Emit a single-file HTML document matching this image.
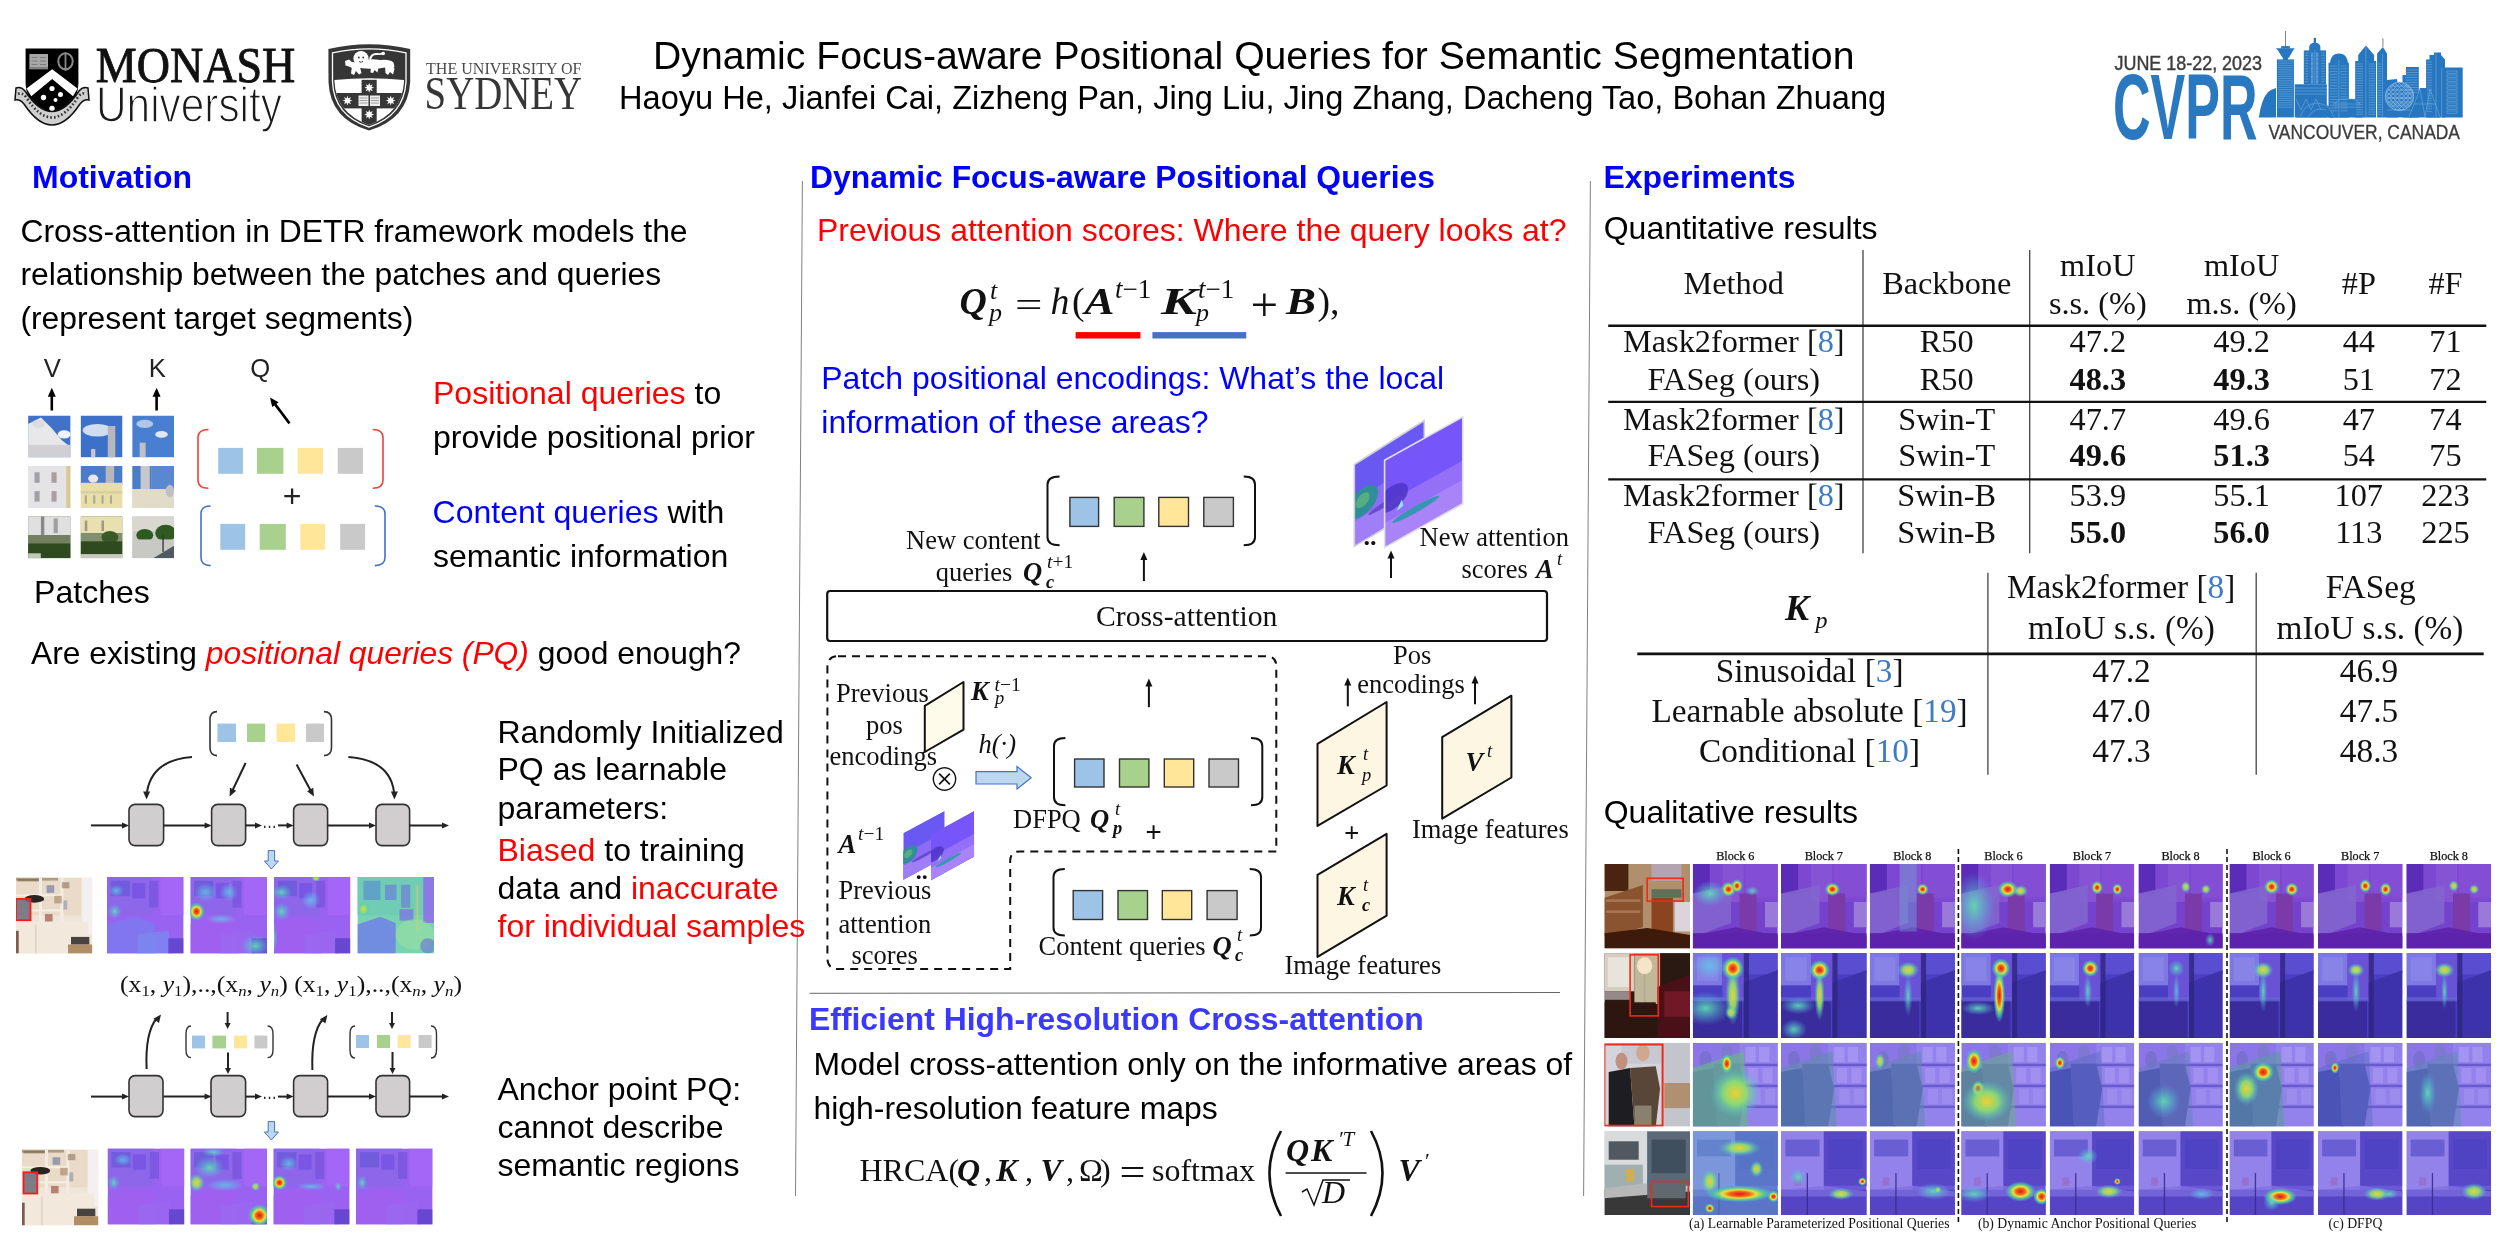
<!DOCTYPE html>
<html><head><meta charset="utf-8"><title>Dynamic Focus-aware Positional Queries for Semantic Segmentation</title>
<style>
html,body{margin:0;padding:0;background:#fff;}
body{width:2500px;height:1250px;overflow:hidden;}
svg{display:block;will-change:transform;}
.ss{font-family:"Liberation Sans",Arial,Helvetica,sans-serif;}
.sf{font-family:"Liberation Serif","Times New Roman",Times,serif;}
</style></head><body>
<svg width="2500" height="1250" viewBox="0 0 2500 1250">
<rect width="2500" height="1250" fill="#fff"/>
<g id="monash">
<path d="M25.6,48.4 H78.4 V84 Q78,96 70,104 L52.2,116 L34,104 Q26,96 25.6,84 Z" fill="#000"/>
<path d="M26.5,88.6 L52.2,69.3 L77.5,88.6 L73,96.2 L52.2,79.1 L31.3,96.2 Z" fill="#fff"/>
<rect x="29.4" y="54" width="18.6" height="15.3" fill="#a8a8a8"/>
<path d="M31.5,57.5 H37.5 M40,57.5 H46 M31.5,61 H37.5 M40,61 H46 M31.5,64.5 H37.5 M40,64.5 H46" stroke="#777" stroke-width="0.9"/><path d="M29.4,68 H48" stroke="#666" stroke-width="1.2"/>
<ellipse cx="65.5" cy="61.3" rx="7.2" ry="8" fill="none" stroke="#8a8a8a" stroke-width="2"/>
<path d="M65.5,52.5 V71" stroke="#8a8a8a" stroke-width="1.8"/>
<circle cx="52" cy="88.5" r="2.6" fill="#fff"/>
<circle cx="43.5" cy="97.5" r="2.7" fill="#fff"/>
<circle cx="60.5" cy="94.5" r="2.5" fill="#fff"/>
<circle cx="55.5" cy="100" r="2" fill="#fff"/>
<circle cx="52" cy="108.5" r="2.7" fill="#fff"/>
<path d="M16,88 Q21,86 25,91 Q52,132 79,91 Q83,86 88,88 L89,100 Q84,99 80,104 Q52,146 24,104 Q20,99 15,100 Z" fill="#cfcfcf" stroke="#111" stroke-width="1.5"/>
<path d="M18,94 Q22,92 26,97 Q52,138 78,97 Q82,92 86,94" fill="none" stroke="#333" stroke-width="2.6" stroke-dasharray="1.6 2.2"/>
</g>
<text class="sf" x="95.8" y="82.2" font-size="51" textLength="199.5" lengthAdjust="spacingAndGlyphs" fill="#111" stroke="#111" stroke-width="0.9">MONASH</text>
<text class="ss" x="96" y="122" font-size="50.5" textLength="186" lengthAdjust="spacingAndGlyphs" fill="#1a1a1a" stroke="#fff" stroke-width="1.4">University</text>
<g id="sydney">
<defs><clipPath id="sydin"><path d="M334.5,54.5 Q369,47.5 404,54.5 L404,82 Q402,113 369,125 Q336,113 334.5,82 Z"/></clipPath></defs>
<path d="M328.4,49 Q369,39.5 410.2,49 L410.2,82 Q408,119 369,130.6 Q330,119 328.5,82 Z" fill="#363636"/>
<path d="M332.5,52.8 Q369,45 406,52.8 L406,82 Q404,115.5 369,127.2 Q334,115.5 332.5,82 Z" fill="none" stroke="#fff" stroke-width="1.3"/>
<g clip-path="url(#sydin)"><rect x="330" y="44" width="80" height="90" fill="#363636"/>
<path d="M330,80.5 Q369,76 410,80.5 V135 H330 Z" fill="#fff"/>
<rect x="361.6" y="79.8" width="15.1" height="50" fill="#363636"/>
<rect x="330" y="93" width="80" height="15.4" fill="#363636"/></g>
<g fill="#fff">
<circle cx="361" cy="58.6" r="7.6"/>
<path d="M356,62 Q368,58 380,60 Q390,59 393.5,62.5 L394.5,67 Q390,69 385,67.5 Q375,69.5 366,68.5 Q358,68 355,66 Z"/>
<path d="M345,61 L349,59.5 L352,62 L357,62.5 L357,67 L352,68 L349,66.5 L345.5,65.5 Z"/>
<path d="M352,66 L351,73.5 L354,75 L356,71 L359,74.5 L361.5,73 L360,67 Z"/>
<path d="M371,66.5 L370.5,72.5 L373,73 L374.5,70 L377.5,72.5 L378.5,67 Z"/>
<path d="M385,66 L385.5,73 L388,75 L390,72 L393,74.5 L394.5,69 L392.5,65 Z"/>
</g>
<path d="M370,60 Q371,53.5 377,54 Q381,54.5 383,53" fill="none" stroke="#fff" stroke-width="2"/>
<circle cx="383.2" cy="53.5" r="1.8" fill="#fff"/>
<g fill="#363636"><circle cx="358.8" cy="57.5" r="0.9"/><circle cx="363.2" cy="57.5" r="0.9"/><path d="M359,61.5 Q361,63 363,61.5" stroke="#363636" stroke-width="0.9" fill="none"/></g>
<polygon points="374.20,87.70 371.42,88.62 372.74,91.24 370.12,89.92 369.20,92.70 368.28,89.92 365.66,91.24 366.98,88.62 364.20,87.70 366.98,86.78 365.66,84.16 368.28,85.48 369.20,82.70 370.12,85.48 372.74,84.16 371.42,86.78" fill="#fff"/>
<polygon points="352.50,100.60 349.72,101.52 351.04,104.14 348.42,102.82 347.50,105.60 346.58,102.82 343.96,104.14 345.28,101.52 342.50,100.60 345.28,99.68 343.96,97.06 346.58,98.38 347.50,95.60 348.42,98.38 351.04,97.06 349.72,99.68" fill="#fff"/>
<polygon points="395.70,100.60 392.92,101.52 394.24,104.14 391.62,102.82 390.70,105.60 389.78,102.82 387.16,104.14 388.48,101.52 385.70,100.60 388.48,99.68 387.16,97.06 389.78,98.38 390.70,95.60 391.62,98.38 394.24,97.06 392.92,99.68" fill="#fff"/>
<polygon points="374.20,114.50 371.42,115.42 372.74,118.04 370.12,116.72 369.20,119.50 368.28,116.72 365.66,118.04 366.98,115.42 364.20,114.50 366.98,113.58 365.66,110.96 368.28,112.28 369.20,109.50 370.12,112.28 372.74,110.96 371.42,113.58" fill="#fff"/>
<rect x="358.5" y="95.5" width="10" height="10.5" fill="#eee"/><rect x="370" y="95.5" width="10" height="10.5" fill="#eee"/>
<path d="M359.5,98 H367.5 M359.5,100.5 H367.5 M359.5,103 H367.5 M371,98 H379 M371,100.5 H379 M371,103 H379" stroke="#888" stroke-width="0.8"/>
</g>
<text class="sf" x="426" y="73.7" font-size="17.2" textLength="155.5" lengthAdjust="spacingAndGlyphs" fill="#4a4a4a">THE UNIVERSITY OF</text>
<text class="sf" x="424.6" y="108.8" font-size="46" textLength="157.5" lengthAdjust="spacingAndGlyphs" fill="#363636">SYDNEY</text>
<text class="ss" x="653.1" y="68.7" font-size="39.16">Dynamic Focus-aware Positional Queries for Semantic Segmentation</text>
<text class="ss" x="619" y="109" font-size="32.6">Haoyu He, Jianfei Cai, Zizheng Pan, Jing Liu, Jing Zhang, Dacheng Tao, Bohan Zhuang</text>
<text class="ss" x="2114.5" y="69.6" font-size="20.5" textLength="147.5" lengthAdjust="spacingAndGlyphs" fill="#3c3c3c" stroke="#3c3c3c" stroke-width="0.45">JUNE 18-22, 2023</text>
<text class="ss" x="2113" y="139.3" font-size="92" textLength="144.5" lengthAdjust="spacingAndGlyphs" fill="#2a78c0" style="font-weight:700">CVPR</text>
<text class="ss" x="2268.5" y="139" font-size="19.6" textLength="191.5" lengthAdjust="spacingAndGlyphs" fill="#3c3c3c" stroke="#3c3c3c" stroke-width="0.3">VANCOUVER, CANADA</text>
<g id="sky" fill="#2677bf">
<path d="M2258.9,117.4 Q2261,100 2268,92 Q2271,89.5 2276,88 V117.4 Z"/>
<rect x="2276.9" y="59.4" width="17" height="58"/>
<path d="M2276,48.2 H2294.7 L2293,50.5 L2289,57.7 H2282.5 L2278,50.5 Z"/><rect x="2281.2" y="46.1" width="8.6" height="2.4"/><rect x="2283" y="57" width="5" height="3"/>
<rect x="2294.7" y="84.3" width="32.1" height="33.1"/>
<rect x="2303.8" y="50.4" width="22.2" height="34"/>
<path d="M2309.2,51 V47 Q2309.5,43 2314.8,42.5 Q2320.2,43 2320.4,47 V51 Z"/><rect x="2313.7" y="37.9" width="2.3" height="5"/>
<path d="M2328.5,117.4 V62.8 H2330 Q2331,53.4 2338.9,53.4 Q2347,53.4 2347.9,62.8 H2348.9 V117.4 Z"/>
<path d="M2355.2,117.4 V61.1 H2358.2 V55.1 L2365.9,45.6 L2374.1,55.1 V61.1 H2376.1 V117.4 Z"/>
<path d="M2377.1,117.4 V53.4 L2382.9,46.9 L2387,53.4 V117.4 Z"/>
<path d="M2387,117.4 V80 L2396.9,79 L2398,84 V117.4 Z"/>
<path d="M2402.5,117.4 V74.9 H2406 V67.1 H2418.8 V117.4 Z"/>
<circle cx="2399.5" cy="96.4" r="14.4"/><rect x="2387" y="97" width="26" height="20.4"/>
<path d="M2408,117.4 L2420,88 H2432 L2440,117.4 Z"/>
<path d="M2330,117.4 V104 L2338,99 H2356 L2362,104 V117.4 Z"/>
<path d="M2296,117.4 Q2300,103 2317,102 Q2332,103 2334,117.4 Z"/>
<path d="M2426.1,117.4 V59.4 H2429.5 V55.1 H2434 V52.5 H2441 V55 L2445,59.4 V117.4 Z"/>
<path d="M2441.6,117.4 V67.6 H2462.7 V117.4 Z"/>
</g>
<path d="M2285.5,31 V46.5 M2382.9,38.3 V47" stroke="#666" stroke-width="0.8"/>
<g stroke="#8ab8e4" stroke-width="0.55" fill="none" opacity="0.85">
<line x1="2278" y1="61.0" x2="2292.8" y2="61.0"/>
<line x1="2278" y1="63.2" x2="2292.8" y2="63.2"/>
<line x1="2278" y1="65.4" x2="2292.8" y2="65.4"/>
<line x1="2278" y1="67.6" x2="2292.8" y2="67.6"/>
<line x1="2278" y1="69.8" x2="2292.8" y2="69.8"/>
<line x1="2278" y1="72.0" x2="2292.8" y2="72.0"/>
<line x1="2278" y1="74.2" x2="2292.8" y2="74.2"/>
<line x1="2278" y1="76.4" x2="2292.8" y2="76.4"/>
<line x1="2278" y1="78.6" x2="2292.8" y2="78.6"/>
<line x1="2278" y1="80.8" x2="2292.8" y2="80.8"/>
<line x1="2278" y1="83.0" x2="2292.8" y2="83.0"/>
<line x1="2278" y1="85.2" x2="2292.8" y2="85.2"/>
<line x1="2278" y1="87.4" x2="2292.8" y2="87.4"/>
<line x1="2278" y1="89.6" x2="2292.8" y2="89.6"/>
<line x1="2278" y1="91.8" x2="2292.8" y2="91.8"/>
<line x1="2278" y1="94.0" x2="2292.8" y2="94.0"/>
<line x1="2278" y1="96.2" x2="2292.8" y2="96.2"/>
<line x1="2278" y1="98.4" x2="2292.8" y2="98.4"/>
<line x1="2278" y1="100.6" x2="2292.8" y2="100.6"/>
<line x1="2278" y1="102.8" x2="2292.8" y2="102.8"/>
<line x1="2278" y1="105.0" x2="2292.8" y2="105.0"/>
<line x1="2278" y1="107.2" x2="2292.8" y2="107.2"/>
<line x1="2304.8" y1="53.0" x2="2308.5" y2="53.0"/><line x1="2321.2" y1="53.0" x2="2325" y2="53.0"/>
<rect x="2311.5" y="53.0" width="1.5" height="1.5"/><rect x="2316.5" y="53.0" width="1.5" height="1.5"/>
<line x1="2304.8" y1="55.6" x2="2308.5" y2="55.6"/><line x1="2321.2" y1="55.6" x2="2325" y2="55.6"/>
<rect x="2311.5" y="55.6" width="1.5" height="1.5"/><rect x="2316.5" y="55.6" width="1.5" height="1.5"/>
<line x1="2304.8" y1="58.2" x2="2308.5" y2="58.2"/><line x1="2321.2" y1="58.2" x2="2325" y2="58.2"/>
<rect x="2311.5" y="58.2" width="1.5" height="1.5"/><rect x="2316.5" y="58.2" width="1.5" height="1.5"/>
<line x1="2304.8" y1="60.8" x2="2308.5" y2="60.8"/><line x1="2321.2" y1="60.8" x2="2325" y2="60.8"/>
<rect x="2311.5" y="60.8" width="1.5" height="1.5"/><rect x="2316.5" y="60.8" width="1.5" height="1.5"/>
<line x1="2304.8" y1="63.4" x2="2308.5" y2="63.4"/><line x1="2321.2" y1="63.4" x2="2325" y2="63.4"/>
<rect x="2311.5" y="63.4" width="1.5" height="1.5"/><rect x="2316.5" y="63.4" width="1.5" height="1.5"/>
<line x1="2304.8" y1="66.0" x2="2308.5" y2="66.0"/><line x1="2321.2" y1="66.0" x2="2325" y2="66.0"/>
<rect x="2311.5" y="66.0" width="1.5" height="1.5"/><rect x="2316.5" y="66.0" width="1.5" height="1.5"/>
<line x1="2304.8" y1="68.6" x2="2308.5" y2="68.6"/><line x1="2321.2" y1="68.6" x2="2325" y2="68.6"/>
<rect x="2311.5" y="68.6" width="1.5" height="1.5"/><rect x="2316.5" y="68.6" width="1.5" height="1.5"/>
<line x1="2304.8" y1="71.2" x2="2308.5" y2="71.2"/><line x1="2321.2" y1="71.2" x2="2325" y2="71.2"/>
<rect x="2311.5" y="71.2" width="1.5" height="1.5"/><rect x="2316.5" y="71.2" width="1.5" height="1.5"/>
<line x1="2304.8" y1="73.8" x2="2308.5" y2="73.8"/><line x1="2321.2" y1="73.8" x2="2325" y2="73.8"/>
<rect x="2311.5" y="73.8" width="1.5" height="1.5"/><rect x="2316.5" y="73.8" width="1.5" height="1.5"/>
<line x1="2304.8" y1="76.4" x2="2308.5" y2="76.4"/><line x1="2321.2" y1="76.4" x2="2325" y2="76.4"/>
<rect x="2311.5" y="76.4" width="1.5" height="1.5"/><rect x="2316.5" y="76.4" width="1.5" height="1.5"/>
<line x1="2304.8" y1="79.0" x2="2308.5" y2="79.0"/><line x1="2321.2" y1="79.0" x2="2325" y2="79.0"/>
<rect x="2311.5" y="79.0" width="1.5" height="1.5"/><rect x="2316.5" y="79.0" width="1.5" height="1.5"/>
<line x1="2304.8" y1="81.6" x2="2308.5" y2="81.6"/><line x1="2321.2" y1="81.6" x2="2325" y2="81.6"/>
<rect x="2311.5" y="81.6" width="1.5" height="1.5"/><rect x="2316.5" y="81.6" width="1.5" height="1.5"/>
<line x1="2330" y1="66.0" x2="2337.5" y2="66.0"/><line x1="2340.5" y1="66.0" x2="2347.5" y2="66.0"/>
<line x1="2330" y1="68.8" x2="2337.5" y2="68.8"/><line x1="2340.5" y1="68.8" x2="2347.5" y2="68.8"/>
<line x1="2330" y1="71.6" x2="2337.5" y2="71.6"/><line x1="2340.5" y1="71.6" x2="2347.5" y2="71.6"/>
<line x1="2330" y1="74.4" x2="2337.5" y2="74.4"/><line x1="2340.5" y1="74.4" x2="2347.5" y2="74.4"/>
<line x1="2330" y1="77.2" x2="2337.5" y2="77.2"/><line x1="2340.5" y1="77.2" x2="2347.5" y2="77.2"/>
<line x1="2330" y1="80.0" x2="2337.5" y2="80.0"/><line x1="2340.5" y1="80.0" x2="2347.5" y2="80.0"/>
<line x1="2330" y1="82.8" x2="2337.5" y2="82.8"/><line x1="2340.5" y1="82.8" x2="2347.5" y2="82.8"/>
<line x1="2330" y1="85.6" x2="2337.5" y2="85.6"/><line x1="2340.5" y1="85.6" x2="2347.5" y2="85.6"/>
<line x1="2330" y1="88.4" x2="2337.5" y2="88.4"/><line x1="2340.5" y1="88.4" x2="2347.5" y2="88.4"/>
<line x1="2330" y1="91.2" x2="2337.5" y2="91.2"/><line x1="2340.5" y1="91.2" x2="2347.5" y2="91.2"/>
<line x1="2330" y1="94.0" x2="2337.5" y2="94.0"/><line x1="2340.5" y1="94.0" x2="2347.5" y2="94.0"/>
<line x1="2330" y1="96.8" x2="2337.5" y2="96.8"/><line x1="2340.5" y1="96.8" x2="2347.5" y2="96.8"/>
<line x1="2330" y1="99.6" x2="2337.5" y2="99.6"/><line x1="2340.5" y1="99.6" x2="2347.5" y2="99.6"/>
<line x1="2330" y1="102.4" x2="2337.5" y2="102.4"/><line x1="2340.5" y1="102.4" x2="2347.5" y2="102.4"/>
<line x1="2330" y1="105.2" x2="2337.5" y2="105.2"/><line x1="2340.5" y1="105.2" x2="2347.5" y2="105.2"/>
<line x1="2330" y1="108.0" x2="2337.5" y2="108.0"/><line x1="2340.5" y1="108.0" x2="2347.5" y2="108.0"/>
<line x1="2330" y1="110.8" x2="2337.5" y2="110.8"/><line x1="2340.5" y1="110.8" x2="2347.5" y2="110.8"/>
<line x1="2356.2" y1="64.0" x2="2363" y2="64.0"/><line x1="2368.5" y1="64.0" x2="2375" y2="64.0"/>
<line x1="2378" y1="64.0" x2="2381.5" y2="64.0"/>
<line x1="2356.2" y1="66.4" x2="2363" y2="66.4"/><line x1="2368.5" y1="66.4" x2="2375" y2="66.4"/>
<line x1="2378" y1="66.4" x2="2381.5" y2="66.4"/>
<line x1="2356.2" y1="68.8" x2="2363" y2="68.8"/><line x1="2368.5" y1="68.8" x2="2375" y2="68.8"/>
<line x1="2378" y1="68.8" x2="2381.5" y2="68.8"/>
<line x1="2356.2" y1="71.2" x2="2363" y2="71.2"/><line x1="2368.5" y1="71.2" x2="2375" y2="71.2"/>
<line x1="2378" y1="71.2" x2="2381.5" y2="71.2"/>
<line x1="2356.2" y1="73.6" x2="2363" y2="73.6"/><line x1="2368.5" y1="73.6" x2="2375" y2="73.6"/>
<line x1="2378" y1="73.6" x2="2381.5" y2="73.6"/>
<line x1="2356.2" y1="76.0" x2="2363" y2="76.0"/><line x1="2368.5" y1="76.0" x2="2375" y2="76.0"/>
<line x1="2378" y1="76.0" x2="2381.5" y2="76.0"/>
<line x1="2356.2" y1="78.4" x2="2363" y2="78.4"/><line x1="2368.5" y1="78.4" x2="2375" y2="78.4"/>
<line x1="2378" y1="78.4" x2="2381.5" y2="78.4"/>
<line x1="2356.2" y1="80.8" x2="2363" y2="80.8"/><line x1="2368.5" y1="80.8" x2="2375" y2="80.8"/>
<line x1="2378" y1="80.8" x2="2381.5" y2="80.8"/>
<line x1="2356.2" y1="83.2" x2="2363" y2="83.2"/><line x1="2368.5" y1="83.2" x2="2375" y2="83.2"/>
<line x1="2378" y1="83.2" x2="2381.5" y2="83.2"/>
<line x1="2356.2" y1="85.6" x2="2363" y2="85.6"/><line x1="2368.5" y1="85.6" x2="2375" y2="85.6"/>
<line x1="2378" y1="85.6" x2="2381.5" y2="85.6"/>
<line x1="2356.2" y1="88.0" x2="2363" y2="88.0"/><line x1="2368.5" y1="88.0" x2="2375" y2="88.0"/>
<line x1="2378" y1="88.0" x2="2381.5" y2="88.0"/>
<line x1="2356.2" y1="90.4" x2="2363" y2="90.4"/><line x1="2368.5" y1="90.4" x2="2375" y2="90.4"/>
<line x1="2378" y1="90.4" x2="2381.5" y2="90.4"/>
<line x1="2356.2" y1="92.8" x2="2363" y2="92.8"/><line x1="2368.5" y1="92.8" x2="2375" y2="92.8"/>
<line x1="2378" y1="92.8" x2="2381.5" y2="92.8"/>
<line x1="2356.2" y1="95.2" x2="2363" y2="95.2"/><line x1="2368.5" y1="95.2" x2="2375" y2="95.2"/>
<line x1="2378" y1="95.2" x2="2381.5" y2="95.2"/>
<line x1="2356.2" y1="97.6" x2="2363" y2="97.6"/><line x1="2368.5" y1="97.6" x2="2375" y2="97.6"/>
<line x1="2378" y1="97.6" x2="2381.5" y2="97.6"/>
<line x1="2356.2" y1="100.0" x2="2363" y2="100.0"/><line x1="2368.5" y1="100.0" x2="2375" y2="100.0"/>
<line x1="2378" y1="100.0" x2="2381.5" y2="100.0"/>
<line x1="2356.2" y1="102.4" x2="2363" y2="102.4"/><line x1="2368.5" y1="102.4" x2="2375" y2="102.4"/>
<line x1="2378" y1="102.4" x2="2381.5" y2="102.4"/>
<line x1="2356.2" y1="104.8" x2="2363" y2="104.8"/><line x1="2368.5" y1="104.8" x2="2375" y2="104.8"/>
<line x1="2378" y1="104.8" x2="2381.5" y2="104.8"/>
<line x1="2356.2" y1="107.2" x2="2363" y2="107.2"/><line x1="2368.5" y1="107.2" x2="2375" y2="107.2"/>
<line x1="2378" y1="107.2" x2="2381.5" y2="107.2"/>
<line x1="2356.2" y1="109.6" x2="2363" y2="109.6"/><line x1="2368.5" y1="109.6" x2="2375" y2="109.6"/>
<line x1="2378" y1="109.6" x2="2381.5" y2="109.6"/>
<line x1="2356.2" y1="112.0" x2="2363" y2="112.0"/><line x1="2368.5" y1="112.0" x2="2375" y2="112.0"/>
<line x1="2378" y1="112.0" x2="2381.5" y2="112.0"/>
<line x1="2356.2" y1="114.4" x2="2363" y2="114.4"/><line x1="2368.5" y1="114.4" x2="2375" y2="114.4"/>
<line x1="2378" y1="114.4" x2="2381.5" y2="114.4"/>
<line x1="2405" y1="70.0" x2="2417.5" y2="70.0"/>
<line x1="2405" y1="72.5" x2="2417.5" y2="72.5"/>
<line x1="2405" y1="75.0" x2="2417.5" y2="75.0"/>
<line x1="2405" y1="77.5" x2="2417.5" y2="77.5"/>
<line x1="2405" y1="80.0" x2="2417.5" y2="80.0"/>
<line x1="2405" y1="82.5" x2="2417.5" y2="82.5"/>
<line x1="2405" y1="85.0" x2="2417.5" y2="85.0"/>
<line x1="2405" y1="87.5" x2="2417.5" y2="87.5"/>
<line x1="2405" y1="90.0" x2="2417.5" y2="90.0"/>
<line x1="2405" y1="92.5" x2="2417.5" y2="92.5"/>
<line x1="2427" y1="62.0" x2="2432" y2="62.0"/>
<line x1="2427" y1="64.6" x2="2432" y2="64.6"/>
<line x1="2427" y1="67.2" x2="2432" y2="67.2"/>
<line x1="2427" y1="69.8" x2="2432" y2="69.8"/>
<line x1="2427" y1="72.4" x2="2432" y2="72.4"/>
<line x1="2427" y1="75.0" x2="2432" y2="75.0"/>
<line x1="2427" y1="77.6" x2="2432" y2="77.6"/>
<line x1="2427" y1="80.2" x2="2432" y2="80.2"/>
<line x1="2427" y1="82.8" x2="2432" y2="82.8"/>
<line x1="2427" y1="85.4" x2="2432" y2="85.4"/>
<line x1="2427" y1="88.0" x2="2432" y2="88.0"/>
<line x1="2427" y1="90.6" x2="2432" y2="90.6"/>
<line x1="2427" y1="93.2" x2="2432" y2="93.2"/>
<line x1="2427" y1="95.8" x2="2432" y2="95.8"/>
<line x1="2427" y1="98.4" x2="2432" y2="98.4"/>
<line x1="2427" y1="101.0" x2="2432" y2="101.0"/>
<line x1="2427" y1="103.6" x2="2432" y2="103.6"/>
<line x1="2427" y1="106.2" x2="2432" y2="106.2"/>
<line x1="2427" y1="108.8" x2="2432" y2="108.8"/>
<line x1="2427" y1="111.4" x2="2432" y2="111.4"/>
<rect x="2447" y="71.0" width="10" height="2.2"/>
<rect x="2447" y="75.0" width="10" height="2.2"/>
<rect x="2447" y="79.0" width="10" height="2.2"/>
<rect x="2447" y="83.0" width="10" height="2.2"/>
<rect x="2447" y="87.0" width="10" height="2.2"/>
<rect x="2447" y="91.0" width="10" height="2.2"/>
<rect x="2447" y="95.0" width="10" height="2.2"/>
<rect x="2447" y="99.0" width="10" height="2.2"/>
<rect x="2447" y="103.0" width="10" height="2.2"/>
<rect x="2447" y="107.0" width="10" height="2.2"/>
<rect x="2447" y="111.0" width="10" height="2.2"/>
<path d="M2365.9,46 V117 M2382.5,54 V117 M2441.6,68 V117 M2436,53 V117 M2338.9,60 V117 M2314.8,50 V84"/>
<path d="M2294.7,88 H2326.8 M2294.7,91 H2326.8 M2294.7,94 H2326.8 M2296,99 L2301,110 L2306,99 L2311,110 L2316,99 L2321,110"/>
<path d="M2300.2,117 Q2304,104 2317,103 Q2330,104 2333.7,117 M2308,117 Q2315,106 2326,110"/>
<path d="M2333.7,104 L2340,99 H2354 L2360.3,104 Z M2334,107 H2360"/>
<path d="M2409,117 L2420,89 L2425,117 M2425,117 L2430,89 L2440,117 M2414,104 H2436"/>
<path d="M2387,98 H2412 M2387,104 H2412 M2387,110 H2412"/>
</g>
<clipPath id="sphc"><circle cx="2399.5" cy="96.4" r="14"/></clipPath>
<g clip-path="url(#sphc)" stroke="#a8ccee" stroke-width="0.5" fill="none"><path d="M2358.3,80.0 L2390.3,112.0 M2390.3,80.0 L2358.3,112.0 M2362.5,80.0 L2394.5,112.0 M2394.5,80.0 L2362.5,112.0 M2366.7,80.0 L2398.7,112.0 M2398.7,80.0 L2366.7,112.0 M2370.9,80.0 L2402.9,112.0 M2402.9,80.0 L2370.9,112.0 M2375.1,80.0 L2407.1,112.0 M2407.1,80.0 L2375.1,112.0 M2379.3,80.0 L2411.3,112.0 M2411.3,80.0 L2379.3,112.0 M2383.5,80.0 L2415.5,112.0 M2415.5,80.0 L2383.5,112.0 M2387.7,80.0 L2419.7,112.0 M2419.7,80.0 L2387.7,112.0 M2391.9,80.0 L2423.9,112.0 M2423.9,80.0 L2391.9,112.0 M2396.1,80.0 L2428.1,112.0 M2428.1,80.0 L2396.1,112.0 M2400.3,80.0 L2432.3,112.0 M2432.3,80.0 L2400.3,112.0 M2404.5,80.0 L2436.5,112.0 M2436.5,80.0 L2404.5,112.0 M2408.7,80.0 L2440.7,112.0 M2440.7,80.0 L2408.7,112.0 M2384,82 H2415 M2384,86 H2415 M2384,90 H2415 M2384,94 H2415 M2384,98 H2415 M2384,102 H2415 M2384,106 H2415 M2384,110 H2415"/></g>
<circle cx="2399.5" cy="96.4" r="14.2" fill="none" stroke="#a8ccee" stroke-width="0.7"/>
<defs>
<marker id="ah" viewBox="0 0 10 10" refX="9" refY="5" markerWidth="4" markerHeight="4" orient="auto-start-reverse"><path d="M0,0 L10,5 L0,10 Z" fill="#000"/></marker>
<marker id="ahs" viewBox="0 0 10 10" refX="9" refY="5" markerWidth="3.2" markerHeight="3.2" orient="auto-start-reverse"><path d="M0,0 L10,5 L0,10 Z" fill="#222"/></marker>
<radialGradient id="hot"><stop offset="0" stop-color="#e8102a"/><stop offset="0.3" stop-color="#f06a10"/><stop offset="0.5" stop-color="#e8e040"/><stop offset="0.72" stop-color="#50d890" stop-opacity="0.8"/><stop offset="1" stop-color="#40c0e0" stop-opacity="0"/></radialGradient>
<radialGradient id="warm"><stop offset="0" stop-color="#f0d030"/><stop offset="0.45" stop-color="#90e070" stop-opacity="0.9"/><stop offset="1" stop-color="#40c0e0" stop-opacity="0"/></radialGradient>
<radialGradient id="cool"><stop offset="0" stop-color="#60e0b0" stop-opacity="0.9"/><stop offset="1" stop-color="#50b8e8" stop-opacity="0"/></radialGradient>
<radialGradient id="cyan"><stop offset="0" stop-color="#60c8e8" stop-opacity="0.8"/><stop offset="1" stop-color="#60c8e8" stop-opacity="0"/></radialGradient>
<linearGradient id="pp1" x1="0" y1="0" x2="0" y2="1"><stop offset="0" stop-color="#8a5ae8"/><stop offset="1" stop-color="#7048d8"/></linearGradient>
</defs>
<line x1="802.4" y1="181" x2="795.5" y2="1196" stroke="#808080" stroke-width="1"/>
<line x1="1590.4" y1="181" x2="1583.6" y2="1196" stroke="#808080" stroke-width="1"/>
<text class="ss" x="32" y="187.6" font-size="32" fill="#0000ff" style="font-weight:700;">Motivation</text>
<text class="ss" x="20.4" y="241.8" font-size="31.85">Cross-attention in DETR framework models the</text>
<text class="ss" x="20.4" y="285.2" font-size="31.85">relationship between the patches and queries</text>
<text class="ss" x="20.4" y="329" font-size="31.85">(represent target segments)</text>
<text class="ss" x="52.4" y="377" font-size="25.7" fill="#222" text-anchor="middle">V</text>
<text class="ss" x="157.2" y="377" font-size="25.7" fill="#222" text-anchor="middle">K</text>
<text class="ss" x="260.3" y="377" font-size="25.7" fill="#222" text-anchor="middle">Q</text>
<line x1="51.8" y1="410.5" x2="51.8" y2="395.8" stroke="#000" stroke-width="2.6"/>
<polygon points="51.8,387.8 55.8,396.8 47.8,396.8" fill="#000"/>
<line x1="156.6" y1="410.5" x2="156.6" y2="395.8" stroke="#000" stroke-width="2.6"/>
<polygon points="156.6,387.8 160.6,396.8 152.6,396.8" fill="#000"/>
<line x1="289.5" y1="423.4" x2="274.8" y2="403.9" stroke="#000" stroke-width="2.6"/>
<polygon points="270.0,397.5 278.6,402.3 272.2,407.1" fill="#000"/>
<clipPath id="c1"><rect x="28.1" y="415.5" width="42.5" height="41.9"/></clipPath>
<g clip-path="url(#c1)"><rect x="28.1" y="415.5" width="42.5" height="41.9" fill="#3f72c8"/>
<polygon points="28.1,423.9 40.9,417.6 51.5,428.1 62.1,440.6 70.6,446.9 70.6,457.4 28.1,457.4" fill="#e8e8ea" opacity="1"/>
<ellipse cx="38.7" cy="423.9" rx="6.4" ry="4.2" fill="#dcdce0" opacity="1"/>
<rect x="28.1" y="444.8" width="42.5" height="12.6" fill="#d0d0d4" opacity="1"/>
<ellipse cx="64.2" cy="434.4" rx="6.4" ry="4.2" fill="#f0f4fa" opacity="1"/>
</g>
<clipPath id="c2"><rect x="80.6" y="415.5" width="41.9" height="41.9"/></clipPath>
<g clip-path="url(#c2)"><rect x="80.6" y="415.5" width="41.9" height="41.9" fill="#3d70c8"/>
<ellipse cx="97.4" cy="430.2" rx="14.7" ry="6.3" fill="#e0e8f4" opacity="0.9"/>
<rect x="107.8" y="426.0" width="7.5" height="31.4" fill="#b8b8bc" opacity="1"/>
<rect x="91.1" y="449.0" width="4.2" height="8.4" fill="#c8c8cc" opacity="1"/>
</g>
<clipPath id="c3"><rect x="132.2" y="415.5" width="41.9" height="41.9"/></clipPath>
<g clip-path="url(#c3)"><rect x="132.2" y="415.5" width="41.9" height="41.9" fill="#4a7ed0"/>
<ellipse cx="144.8" cy="423.9" rx="8.4" ry="4.2" fill="#c8d8f0" opacity="0.8"/>
<ellipse cx="161.5" cy="434.4" rx="6.3" ry="3.4" fill="#e0e8f4" opacity="1"/>
<rect x="139.7" y="442.7" width="5.9" height="14.7" fill="#c0c0c4" opacity="1"/>
</g>
<clipPath id="c4"><rect x="28.1" y="466.0" width="42.5" height="41.9"/></clipPath>
<g clip-path="url(#c4)"><rect x="28.1" y="466.0" width="42.5" height="41.9" fill="#e8e8e8"/>
<rect x="28.1" y="466.0" width="42.5" height="41.9" fill="#e4e4e6" opacity="1"/>
<rect x="34.5" y="472.3" width="5.1" height="10.5" fill="#a0a0a8" opacity="1"/>
<rect x="51.5" y="472.3" width="5.1" height="10.5" fill="#a8a0a0" opacity="1"/>
<rect x="34.5" y="491.1" width="5.1" height="10.5" fill="#a0a0a8" opacity="1"/>
<rect x="51.5" y="491.1" width="5.1" height="10.5" fill="#a8a0a4" opacity="1"/>
<rect x="66.3" y="466.0" width="4.2" height="41.9" fill="#d8c890" opacity="1"/>
</g>
<clipPath id="c5"><rect x="80.6" y="466.0" width="41.9" height="41.9"/></clipPath>
<g clip-path="url(#c5)"><rect x="80.6" y="466.0" width="41.9" height="41.9" fill="#e8e0b0"/>
<rect x="80.6" y="466.0" width="41.9" height="18.9" fill="#4a7ccc" opacity="1"/>
<rect x="105.7" y="466.0" width="8.4" height="20.9" fill="#b8b8bc" opacity="1"/>
<ellipse cx="93.2" cy="478.6" rx="5.0" ry="4.2" fill="#e8e8ec" opacity="1"/>
<rect x="80.6" y="482.8" width="41.9" height="25.1" fill="#e8dfa8" opacity="1"/>
<rect x="80.6" y="491.1" width="41.9" height="2.5" fill="#d8d0a0" opacity="1"/>
<rect x="84.8" y="495.3" width="2.1" height="8.4" fill="#b0a890" opacity="1"/>
<rect x="93.2" y="495.3" width="2.1" height="8.4" fill="#b0a890" opacity="1"/>
<rect x="101.5" y="495.3" width="2.1" height="8.4" fill="#b0a890" opacity="1"/>
<rect x="109.9" y="495.3" width="2.1" height="8.4" fill="#b0a890" opacity="1"/>
</g>
<clipPath id="c6"><rect x="132.2" y="466.0" width="41.9" height="41.9"/></clipPath>
<g clip-path="url(#c6)"><rect x="132.2" y="466.0" width="41.9" height="41.9" fill="#dcdccc"/>
<rect x="132.2" y="466.0" width="18.9" height="23.0" fill="#4a7ccc" opacity="1"/>
<rect x="151.1" y="466.0" width="23.0" height="25.1" fill="#5a88d0" opacity="1"/>
<rect x="140.6" y="466.0" width="9.2" height="29.3" fill="#c8c8cc" opacity="1"/>
<rect x="132.2" y="489.0" width="41.9" height="18.9" fill="#e0dcc8" opacity="1"/>
<ellipse cx="169.9" cy="491.1" rx="4.2" ry="6.3" fill="#c0c0c0" opacity="1"/>
</g>
<clipPath id="c7"><rect x="28.1" y="516.3" width="42.5" height="42.0"/></clipPath>
<g clip-path="url(#c7)"><rect x="28.1" y="516.3" width="42.5" height="42.0" fill="#5a7040"/>
<rect x="28.1" y="516.3" width="42.5" height="18.9" fill="#e0e0e0" opacity="1"/>
<rect x="40.9" y="516.3" width="3.4" height="18.9" fill="#888" opacity="1"/>
<rect x="53.6" y="518.4" width="4.2" height="14.7" fill="#a0a0a0" opacity="1"/>
<rect x="28.1" y="535.2" width="42.5" height="8.4" fill="#708060" opacity="1"/>
<rect x="28.1" y="543.6" width="42.5" height="14.7" fill="#304a20" opacity="1"/>
<rect x="28.1" y="553.3" width="12.7" height="5.0" fill="#c0c8b8" opacity="1"/>
</g>
<clipPath id="c8"><rect x="80.6" y="516.3" width="41.9" height="42.0"/></clipPath>
<g clip-path="url(#c8)"><rect x="80.6" y="516.3" width="41.9" height="42.0" fill="#4a6a30"/>
<rect x="80.6" y="516.3" width="41.9" height="16.8" fill="#e8e0b0" opacity="1"/>
<rect x="84.8" y="520.5" width="2.5" height="10.5" fill="#a09880" opacity="1"/>
<rect x="101.5" y="520.5" width="2.5" height="10.5" fill="#a09880" opacity="1"/>
<rect x="80.6" y="533.1" width="41.9" height="8.4" fill="#809070" opacity="1"/>
<ellipse cx="109.9" cy="537.3" rx="8.4" ry="6.3" fill="#3a5a2a" opacity="1"/>
<rect x="80.6" y="541.5" width="41.9" height="12.6" fill="#2e4a1e" opacity="1"/>
<rect x="80.6" y="554.1" width="41.9" height="4.2" fill="#c8c8c0" opacity="1"/>
</g>
<clipPath id="c9"><rect x="132.2" y="516.3" width="41.9" height="42.0"/></clipPath>
<g clip-path="url(#c9)"><rect x="132.2" y="516.3" width="41.9" height="42.0" fill="#c8c8c4"/>
<rect x="132.2" y="516.3" width="41.9" height="14.7" fill="#d8d8d0" opacity="1"/>
<ellipse cx="144.8" cy="535.2" rx="8.4" ry="6.3" fill="#2e5a22" opacity="1"/>
<ellipse cx="165.7" cy="533.1" rx="10.5" ry="8.4" fill="#305a22" opacity="1"/>
<rect x="132.2" y="539.4" width="41.9" height="18.9" fill="#c8c8c4" opacity="1"/>
<polygon points="153.1,558.3 174.1,545.7 174.1,558.3" fill="#505860" opacity="1"/>
<rect x="162.4" y="535.2" width="1.3" height="16.8" fill="#333" opacity="1"/>
</g>
<path d="M208.5,429.5 Q198,429.5 198,437.5 V480.3 Q198,488.3 208.5,488.3" fill="none" stroke="#e8443a" stroke-width="1.6"/>
<path d="M372.7,429.5 Q383,429.5 383,437.5 V480.3 Q383,488.3 372.7,488.3" fill="none" stroke="#e8443a" stroke-width="1.6"/>
<rect x="218.2" y="447.9" width="24.8" height="25.9" fill="#9dc3e6"/>
<rect x="257" y="447.9" width="26.4" height="25.9" fill="#a9d18e"/>
<rect x="297.7" y="447.9" width="25.3" height="25.9" fill="#ffe699"/>
<rect x="337.7" y="447.9" width="25.3" height="25.9" fill="#c9c9c9"/>
<text class="ss" x="282.7" y="507.4" font-size="32" fill="#222">+</text>
<path d="M210.6,506 Q201,506 201,514 V557.6 Q201,565.6 210.6,565.6" fill="none" stroke="#4472c4" stroke-width="1.6"/>
<path d="M374.8,506 Q385,506 385,514 V557.6 Q385,565.6 374.8,565.6" fill="none" stroke="#4472c4" stroke-width="1.6"/>
<rect x="220.3" y="523.9" width="24.9" height="25.9" fill="#9dc3e6"/>
<rect x="259.7" y="523.9" width="26.1" height="25.9" fill="#a9d18e"/>
<rect x="300.3" y="523.9" width="24.8" height="25.9" fill="#ffe699"/>
<rect x="340.2" y="523.9" width="24.9" height="25.9" fill="#c9c9c9"/>
<text class="ss" x="34.1" y="602.8" font-size="32">Patches</text>
<text class="ss" x="433" y="403.5" font-size="32"><tspan fill="#ff0000">Positional queries</tspan> to</text>
<text class="ss" x="433" y="447.6" font-size="32">provide positional prior</text>
<text class="ss" x="432.6" y="523.2" font-size="32"><tspan fill="#0000ff">Content queries</tspan> with</text>
<text class="ss" x="433" y="566.7" font-size="32">semantic information</text>
<text class="ss" x="31" y="664" font-size="31.78">Are existing <tspan fill="#ff0000" style="font-style:italic">positional queries (PQ)</tspan> good enough?</text>
<path d="M217,711.6 Q210,711.6 210,719.6 V747.6 Q210,755.6 217,755.6" fill="none" stroke="#333" stroke-width="1.6"/>
<path d="M324,711.6 Q331.5,711.6 331.5,719.6 V747.6 Q331.5,755.6 324,755.6" fill="none" stroke="#333" stroke-width="1.6"/>
<rect x="217.4" y="723.6" width="18.6" height="18.4" fill="#9dc3e6"/>
<rect x="247" y="723.6" width="18.2" height="18.4" fill="#a9d18e"/>
<rect x="276.6" y="723.6" width="18.4" height="18.4" fill="#ffe699"/>
<rect x="306" y="723.6" width="18" height="18.4" fill="#c9c9c9"/>
<rect x="129" y="804.4" width="34.599999999999994" height="41.200000000000045" rx="6" fill="#d0cece" stroke="#333" stroke-width="1.6"/>
<rect x="211.6" y="804.4" width="34.0" height="41.200000000000045" rx="6" fill="#d0cece" stroke="#333" stroke-width="1.6"/>
<rect x="293.6" y="804.4" width="34.0" height="41.200000000000045" rx="6" fill="#d0cece" stroke="#333" stroke-width="1.6"/>
<rect x="376" y="804.4" width="33.60000000000002" height="41.200000000000045" rx="6" fill="#d0cece" stroke="#333" stroke-width="1.6"/>
<line x1="91.0" y1="825.4" x2="123.0" y2="825.4" stroke="#222" stroke-width="2"/>
<polygon points="129.0,825.4 122.0,828.4 122.0,822.4" fill="#222"/>
<line x1="163.6" y1="825.4" x2="205.6" y2="825.4" stroke="#222" stroke-width="2"/>
<polygon points="211.6,825.4 204.6,828.4 204.6,822.4" fill="#222"/>
<line x1="245.6" y1="825.4" x2="256.0" y2="825.4" stroke="#222" stroke-width="2"/>
<polygon points="262.0,825.4 255.0,828.4 255.0,822.4" fill="#222"/>
<text class="ss" x="262" y="828.0" font-size="20" textLength="15" lengthAdjust="spacingAndGlyphs" fill="#222">…</text>
<line x1="278.0" y1="825.4" x2="287.6" y2="825.4" stroke="#222" stroke-width="2"/>
<polygon points="293.6,825.4 286.6,828.4 286.6,822.4" fill="#222"/>
<line x1="327.6" y1="825.4" x2="370.0" y2="825.4" stroke="#222" stroke-width="2"/>
<polygon points="376.0,825.4 369.0,828.4 369.0,822.4" fill="#222"/>
<line x1="409.6" y1="825.4" x2="443.0" y2="825.4" stroke="#222" stroke-width="2"/>
<polygon points="449.0,825.4 442.0,828.4 442.0,822.4" fill="#222"/>
<path d="M192,757 Q152,760 147,792" fill="none" stroke="#222" stroke-width="2"/>
<polygon points="146.6,799.5 143.1,791.5 150.1,791.5" fill="#222"/>
<line x1="245.6" y1="763.0" x2="232.6" y2="790.2" stroke="#222" stroke-width="2"/>
<polygon points="229.6,796.5 229.9,787.8 236.2,790.8" fill="#222"/>
<line x1="296.6" y1="764.6" x2="310.6" y2="790.4" stroke="#222" stroke-width="2"/>
<polygon points="314.0,796.5 307.1,791.2 313.2,787.8" fill="#222"/>
<path d="M348.4,757 Q390,760 394,792" fill="none" stroke="#222" stroke-width="2"/>
<polygon points="394.4,799.5 390.9,791.5 397.9,791.5" fill="#222"/>
<path d="M268.2,850.6 H274.59999999999997 V861 H278.4 L271.4,869 L264.4,861 H268.2 Z" fill="#bdd7ee" stroke="#4472c4" stroke-width="1"/>
<clipPath id="c10"><rect x="16.0" y="877.6" width="76.4" height="76.0"/></clipPath>
<g clip-path="url(#c10)"><rect x="16.0" y="877.6" width="76.4" height="76.0" fill="#efe6da"/>
<rect x="16.0" y="877.6" width="67.2" height="38.0" fill="#eadbc8" opacity="1"/>
<rect x="16.0" y="877.6" width="42.0" height="3.0" fill="#8a7050" opacity="0.6"/>
<rect x="17.5" y="879.1" width="22.9" height="2.3" fill="#6a5a40" opacity="0.6"/>
<rect x="38.9" y="877.6" width="3.1" height="45.6" fill="#f4ece2" opacity="1"/>
<rect x="60.3" y="877.6" width="3.1" height="45.6" fill="#f4ece2" opacity="1"/>
<rect x="16.0" y="894.3" width="45.8" height="1.9" fill="#f6efe6" opacity="1"/>
<rect x="16.0" y="909.5" width="45.8" height="1.9" fill="#f6efe6" opacity="1"/>
<ellipse cx="34.3" cy="898.9" rx="9.9" ry="3.8" fill="#2a2420" opacity="1"/>
<rect x="46.6" y="885.2" width="7.6" height="7.6" fill="#6070a0" opacity="0.6"/>
<rect x="54.2" y="895.8" width="7.6" height="7.6" fill="#a08060" opacity="0.6"/>
<rect x="45.0" y="914.1" width="7.6" height="7.6" fill="#904030" opacity="0.6"/>
<rect x="61.8" y="882.2" width="7.6" height="6.1" fill="#7a6040" opacity="0.5"/>
<rect x="63.4" y="900.4" width="3.8" height="9.1" fill="#7080b0" opacity="0.5"/>
<rect x="81.7" y="877.6" width="10.7" height="57.0" fill="#f4f0f2" opacity="1"/>
<rect x="81.7" y="923.2" width="3.8" height="11.4" fill="#a04030" opacity="0.5"/>
<rect x="16.0" y="921.7" width="72.6" height="31.9" fill="#f2e8dc" opacity="1"/>
<rect x="35.1" y="924.7" width="1.5" height="28.9" fill="#d8c8b8" opacity="0.7"/>
<rect x="71.0" y="936.9" width="18.3" height="7.6" fill="#2a2624" opacity="0.85"/>
<rect x="68.0" y="944.5" width="24.4" height="9.1" fill="#a07848" opacity="0.8"/>
<rect x="16.0" y="930.8" width="2.7" height="22.8" fill="#5a3a2a" opacity="0.8"/>
<rect x="16.0" y="898.9" width="14.5" height="21.3" fill="#6a6a7a" opacity="0.85"/>
<rect x="16.0" y="898.9" width="14.5" height="21.3" fill="none" stroke="#ff1a1a" stroke-width="1.8"/>
</g>
<clipPath id="c11"><rect x="107.0" y="877.0" width="76.6" height="76.6"/></clipPath>
<g clip-path="url(#c11)"><rect x="107.0" y="877.0" width="76.6" height="76.6" fill="#9a62f0"/>
<rect x="107.0" y="877.0" width="46.0" height="38.3" fill="#8a68e8" opacity="0.8"/>
<rect x="110.8" y="880.8" width="19.1" height="15.3" fill="#6a5ad8" opacity="0.8"/>
<rect x="132.3" y="883.1" width="13.0" height="15.3" fill="#7050e0" opacity="0.7"/>
<rect x="149.1" y="880.8" width="9.2" height="26.8" fill="#7050d8" opacity="0.6"/>
<rect x="160.6" y="877.0" width="23.0" height="38.3" fill="#a868f8" opacity="0.7"/>
<polygon points="107.0,924.5 133.8,916.8 154.5,923.0 154.5,953.6 107.0,953.6" fill="#8078f0" opacity="0.9"/>
<polygon points="137.6,934.5 168.3,930.6 172.1,953.6 137.6,953.6" fill="#7a88f0" opacity="0.8"/>
<rect x="168.3" y="938.3" width="15.3" height="15.3" fill="#5a40c8" opacity="0.8"/>
<ellipse cx="114.7" cy="911.5" rx="6.9" ry="7.7" fill="url(#cool)" opacity="1"/>
<ellipse cx="116.2" cy="890.8" rx="7.7" ry="6.1" fill="url(#cyan)" opacity="1"/>
</g>
<clipPath id="c12"><rect x="190.4" y="877.0" width="76.6" height="76.6"/></clipPath>
<g clip-path="url(#c12)"><rect x="190.4" y="877.0" width="76.6" height="76.6" fill="#9a62f0"/>
<rect x="190.4" y="877.0" width="46.0" height="38.3" fill="#8a68e8" opacity="0.8"/>
<rect x="194.2" y="880.8" width="19.1" height="15.3" fill="#6a5ad8" opacity="0.8"/>
<rect x="215.7" y="883.1" width="13.0" height="15.3" fill="#7050e0" opacity="0.7"/>
<rect x="232.5" y="880.8" width="9.2" height="26.8" fill="#7050d8" opacity="0.6"/>
<rect x="244.0" y="877.0" width="23.0" height="38.3" fill="#a868f8" opacity="0.7"/>
<polygon points="190.4,924.5 217.2,916.8 237.9,923.0 237.9,953.6 190.4,953.6" fill="#a060f0" opacity="0.9"/>
<polygon points="221.0,934.5 251.7,930.6 255.5,953.6 221.0,953.6" fill="#9a68f0" opacity="0.8"/>
<rect x="251.7" y="938.3" width="15.3" height="15.3" fill="#5a40c8" opacity="0.8"/>
<ellipse cx="196.5" cy="911.5" rx="8.4" ry="9.2" fill="url(#hot)" opacity="1"/>
<ellipse cx="205.7" cy="892.3" rx="11.5" ry="9.2" fill="url(#cyan)" opacity="1"/>
<ellipse cx="228.7" cy="892.3" rx="9.2" ry="9.2" fill="url(#cyan)" opacity="1"/>
<ellipse cx="255.5" cy="945.9" rx="15.3" ry="11.5" fill="url(#cool)" opacity="1"/>
<ellipse cx="221.0" cy="919.1" rx="15.3" ry="4.6" fill="url(#cyan)" opacity="1"/>
</g>
<clipPath id="c13"><rect x="274.0" y="877.0" width="76.4" height="76.6"/></clipPath>
<g clip-path="url(#c13)"><rect x="274.0" y="877.0" width="76.4" height="76.6" fill="#9a62f0"/>
<rect x="274.0" y="877.0" width="45.8" height="38.3" fill="#8a68e8" opacity="0.8"/>
<rect x="277.8" y="880.8" width="19.1" height="15.3" fill="#6a5ad8" opacity="0.8"/>
<rect x="299.2" y="883.1" width="13.0" height="15.3" fill="#7050e0" opacity="0.7"/>
<rect x="316.0" y="880.8" width="9.2" height="26.8" fill="#7050d8" opacity="0.6"/>
<rect x="327.5" y="877.0" width="22.9" height="38.3" fill="#a868f8" opacity="0.7"/>
<polygon points="274.0,924.5 300.7,916.8 321.4,923.0 321.4,953.6 274.0,953.6" fill="#a060f0" opacity="0.9"/>
<polygon points="304.6,934.5 335.1,930.6 338.9,953.6 304.6,953.6" fill="#9a68f0" opacity="0.8"/>
<rect x="335.1" y="938.3" width="15.3" height="15.3" fill="#5a40c8" opacity="0.8"/>
<ellipse cx="281.6" cy="911.5" rx="8.4" ry="9.2" fill="url(#cool)" opacity="1"/>
<ellipse cx="281.6" cy="892.3" rx="10.7" ry="7.7" fill="url(#cool)" opacity="1"/>
<ellipse cx="316.0" cy="878.5" rx="4.6" ry="3.1" fill="url(#warm)" opacity="1"/>
<ellipse cx="310.7" cy="900.0" rx="9.2" ry="9.2" fill="url(#cyan)" opacity="1"/>
<ellipse cx="274.0" cy="938.3" rx="3.1" ry="15.3" fill="url(#cool)" opacity="1"/>
</g>
<clipPath id="c14"><rect x="357.4" y="877.0" width="76.6" height="76.6"/></clipPath>
<g clip-path="url(#c14)"><rect x="357.4" y="877.0" width="76.6" height="76.6" fill="#78d4b0"/>
<rect x="357.4" y="877.0" width="76.6" height="38.3" fill="#70ccb4" opacity="1"/>
<rect x="363.5" y="880.8" width="16.9" height="19.2" fill="#5a90d0" opacity="0.7"/>
<rect x="385.0" y="884.7" width="11.5" height="15.3" fill="#6a80d8" opacity="0.7"/>
<rect x="401.1" y="884.7" width="9.2" height="23.0" fill="#7070d8" opacity="0.6"/>
<rect x="423.3" y="877.0" width="10.7" height="46.0" fill="#9070e8" opacity="0.9"/>
<polygon points="357.4,924.5 380.4,916.8 395.7,923.0 395.7,953.6 357.4,953.6" fill="#7080e8" opacity="0.85"/>
<rect x="399.5" y="909.2" width="13.8" height="11.5" fill="#7a78e0" opacity="0.8"/>
<ellipse cx="363.5" cy="909.2" rx="6.1" ry="7.7" fill="url(#warm)" opacity="1"/>
<rect x="415.6" y="884.7" width="3.1" height="46.0" fill="#e0c860" opacity="0.45"/>
<ellipse cx="414.9" cy="934.5" rx="19.2" ry="15.3" fill="#a0e0a0" opacity="0.5"/>
<ellipse cx="427.9" cy="945.9" rx="7.7" ry="7.7" fill="#6a70d8" opacity="0.6"/>
</g>
<text class="sf" x="120" y="992" font-size="23" textLength="342" lengthAdjust="spacingAndGlyphs" fill="#111">(x<tspan font-size="15" dy="4">1</tspan><tspan dy="-4">, </tspan><tspan font-style="italic">y</tspan><tspan font-size="15" dy="4">1</tspan><tspan dy="-4">),..,(x</tspan><tspan font-size="15" dy="4" font-style="italic">n</tspan><tspan dy="-4">, </tspan><tspan font-style="italic">y</tspan><tspan font-size="15" dy="4" font-style="italic">n</tspan><tspan dy="-4">) (x</tspan><tspan font-size="15" dy="4">1</tspan><tspan dy="-4">, </tspan><tspan font-style="italic">y</tspan><tspan font-size="15" dy="4">1</tspan><tspan dy="-4">),..,(x</tspan><tspan font-size="15" dy="4" font-style="italic">n</tspan><tspan dy="-4">, </tspan><tspan font-style="italic">y</tspan><tspan font-size="15" dy="4" font-style="italic">n</tspan><tspan dy="-4">)</tspan></text>
<path d="M146.6,1069 Q145,1032 157,1018" fill="none" stroke="#222" stroke-width="2"/>
<polygon points="161.0,1014.4 159.0,1022.9 153.4,1018.7" fill="#222"/>
<path d="M312.4,1070 Q311,1033 323,1019" fill="none" stroke="#222" stroke-width="2"/>
<polygon points="327.4,1015.0 325.4,1023.5 319.8,1019.3" fill="#222"/>
<path d="M191,1026 Q186,1026 186,1033.9 V1049.6999999999998 Q186,1057.6 191,1057.6" fill="none" stroke="#333" stroke-width="1.4"/>
<path d="M267.6,1026 Q273,1026 273,1033.9 V1049.6999999999998 Q273,1057.6 267.6,1057.6" fill="none" stroke="#333" stroke-width="1.4"/>
<rect x="192" y="1035.6" width="13" height="12.8" fill="#9dc3e6"/>
<rect x="212.4" y="1035.6" width="13.6" height="12.8" fill="#a9d18e"/>
<rect x="234" y="1035.6" width="13" height="12.8" fill="#ffe699"/>
<rect x="254.4" y="1035.6" width="13" height="12.8" fill="#c9c9c9"/>
<path d="M355,1026 Q350,1026 350,1034 V1050 Q350,1058 355,1058" fill="none" stroke="#333" stroke-width="1.4"/>
<path d="M431,1026 Q436.5,1026 436.5,1034 V1050 Q436.5,1058 431,1058" fill="none" stroke="#333" stroke-width="1.4"/>
<rect x="356" y="1035" width="13" height="13" fill="#9dc3e6"/>
<rect x="377" y="1035" width="13" height="13" fill="#a9d18e"/>
<rect x="397.6" y="1035" width="13" height="13" fill="#ffe699"/>
<rect x="418.6" y="1035" width="13" height="13" fill="#c9c9c9"/>
<line x1="227.6" y1="1012.0" x2="227.6" y2="1024.0" stroke="#222" stroke-width="2"/>
<polygon points="227.6,1029.0 224.6,1023.0 230.6,1023.0" fill="#222"/>
<line x1="228.0" y1="1052.4" x2="228.0" y2="1069.0" stroke="#222" stroke-width="2"/>
<polygon points="228.0,1074.0 225.0,1068.0 231.0,1068.0" fill="#222"/>
<line x1="392.0" y1="1012.0" x2="392.0" y2="1024.0" stroke="#222" stroke-width="2"/>
<polygon points="392.0,1029.0 389.0,1023.0 395.0,1023.0" fill="#222"/>
<line x1="392.5" y1="1052.0" x2="392.5" y2="1069.0" stroke="#222" stroke-width="2"/>
<polygon points="392.5,1074.0 389.5,1068.0 395.5,1068.0" fill="#222"/>
<rect x="129" y="1075.6" width="34" height="41.0" rx="6" fill="#d0cece" stroke="#333" stroke-width="1.6"/>
<rect x="211" y="1075.6" width="34.599999999999994" height="41.0" rx="6" fill="#d0cece" stroke="#333" stroke-width="1.6"/>
<rect x="293.6" y="1075.6" width="34.0" height="41.0" rx="6" fill="#d0cece" stroke="#333" stroke-width="1.6"/>
<rect x="376" y="1075.6" width="33.60000000000002" height="41.0" rx="6" fill="#d0cece" stroke="#333" stroke-width="1.6"/>
<line x1="91.0" y1="1096.6" x2="123.0" y2="1096.6" stroke="#222" stroke-width="2"/>
<polygon points="129.0,1096.6 122.0,1099.6 122.0,1093.6" fill="#222"/>
<line x1="163.6" y1="1096.6" x2="205.6" y2="1096.6" stroke="#222" stroke-width="2"/>
<polygon points="211.6,1096.6 204.6,1099.6 204.6,1093.6" fill="#222"/>
<line x1="245.6" y1="1096.6" x2="256.0" y2="1096.6" stroke="#222" stroke-width="2"/>
<polygon points="262.0,1096.6 255.0,1099.6 255.0,1093.6" fill="#222"/>
<text class="ss" x="262" y="1099.2" font-size="20" textLength="15" lengthAdjust="spacingAndGlyphs" fill="#222">…</text>
<line x1="278.0" y1="1096.6" x2="287.6" y2="1096.6" stroke="#222" stroke-width="2"/>
<polygon points="293.6,1096.6 286.6,1099.6 286.6,1093.6" fill="#222"/>
<line x1="327.6" y1="1096.6" x2="370.0" y2="1096.6" stroke="#222" stroke-width="2"/>
<polygon points="376.0,1096.6 369.0,1099.6 369.0,1093.6" fill="#222"/>
<line x1="409.6" y1="1096.6" x2="443.0" y2="1096.6" stroke="#222" stroke-width="2"/>
<polygon points="449.0,1096.6 442.0,1099.6 442.0,1093.6" fill="#222"/>
<path d="M268.2,1121.6 H274.59999999999997 V1132 H278.4 L271.4,1140 L264.4,1132 H268.2 Z" fill="#bdd7ee" stroke="#4472c4" stroke-width="1"/>
<clipPath id="c15"><rect x="22.0" y="1149.6" width="76.4" height="75.8"/></clipPath>
<g clip-path="url(#c15)"><rect x="22.0" y="1149.6" width="76.4" height="75.8" fill="#efe6da"/>
<rect x="22.0" y="1149.6" width="67.2" height="37.9" fill="#eadbc8" opacity="1"/>
<rect x="22.0" y="1149.6" width="42.0" height="3.0" fill="#8a7050" opacity="0.6"/>
<rect x="23.5" y="1151.1" width="22.9" height="2.3" fill="#6a5a40" opacity="0.6"/>
<rect x="44.9" y="1149.6" width="3.1" height="45.5" fill="#f4ece2" opacity="1"/>
<rect x="66.3" y="1149.6" width="3.1" height="45.5" fill="#f4ece2" opacity="1"/>
<rect x="22.0" y="1166.3" width="45.8" height="1.9" fill="#f6efe6" opacity="1"/>
<rect x="22.0" y="1181.4" width="45.8" height="1.9" fill="#f6efe6" opacity="1"/>
<ellipse cx="40.3" cy="1170.8" rx="9.9" ry="3.8" fill="#2a2420" opacity="1"/>
<rect x="52.6" y="1157.2" width="7.6" height="7.6" fill="#6070a0" opacity="0.6"/>
<rect x="60.2" y="1167.8" width="7.6" height="7.6" fill="#a08060" opacity="0.6"/>
<rect x="51.0" y="1186.0" width="7.6" height="7.6" fill="#904030" opacity="0.6"/>
<rect x="67.8" y="1154.1" width="7.6" height="6.1" fill="#7a6040" opacity="0.5"/>
<rect x="69.4" y="1172.3" width="3.8" height="9.1" fill="#7080b0" opacity="0.5"/>
<rect x="87.7" y="1149.6" width="10.7" height="56.9" fill="#f4f0f2" opacity="1"/>
<rect x="87.7" y="1195.1" width="3.8" height="11.4" fill="#a04030" opacity="0.5"/>
<rect x="22.0" y="1193.6" width="72.6" height="31.8" fill="#f2e8dc" opacity="1"/>
<rect x="41.1" y="1196.6" width="1.5" height="28.8" fill="#d8c8b8" opacity="0.7"/>
<rect x="77.0" y="1208.7" width="18.3" height="7.6" fill="#2a2624" opacity="0.85"/>
<rect x="74.0" y="1216.3" width="24.4" height="9.1" fill="#a07848" opacity="0.8"/>
<rect x="22.0" y="1202.7" width="2.7" height="22.7" fill="#5a3a2a" opacity="0.8"/>
<rect x="23.5" y="1172.3" width="13.8" height="21.2" fill="#6a6a7a" opacity="0.85"/>
<rect x="23.5" y="1172.3" width="13.8" height="21.2" fill="none" stroke="#ff1a1a" stroke-width="1.8"/>
</g>
<clipPath id="c16"><rect x="107.6" y="1148.4" width="76.8" height="76.2"/></clipPath>
<g clip-path="url(#c16)"><rect x="107.6" y="1148.4" width="76.8" height="76.2" fill="#9a62f0"/>
<rect x="107.6" y="1148.4" width="46.1" height="38.1" fill="#8a68e8" opacity="0.8"/>
<rect x="111.4" y="1152.2" width="19.2" height="15.2" fill="#6a5ad8" opacity="0.8"/>
<rect x="132.9" y="1154.5" width="13.1" height="15.2" fill="#7050e0" opacity="0.7"/>
<rect x="149.8" y="1152.2" width="9.2" height="26.7" fill="#7050d8" opacity="0.6"/>
<rect x="161.4" y="1148.4" width="23.0" height="38.1" fill="#a868f8" opacity="0.7"/>
<polygon points="107.6,1195.6 134.5,1188.0 155.2,1194.1 155.2,1224.6 107.6,1224.6" fill="#a060f0" opacity="0.9"/>
<polygon points="138.3,1205.5 169.0,1201.7 172.9,1224.6 138.3,1224.6" fill="#9a68f0" opacity="0.8"/>
<rect x="169.0" y="1209.4" width="15.4" height="15.2" fill="#5a40c8" opacity="0.8"/>
<ellipse cx="113.7" cy="1182.7" rx="6.1" ry="7.6" fill="url(#cool)" opacity="1"/>
<ellipse cx="123.0" cy="1159.8" rx="9.2" ry="6.1" fill="url(#cyan)" opacity="1"/>
</g>
<clipPath id="c17"><rect x="190.4" y="1148.4" width="76.6" height="76.2"/></clipPath>
<g clip-path="url(#c17)"><rect x="190.4" y="1148.4" width="76.6" height="76.2" fill="#9a62f0"/>
<rect x="190.4" y="1148.4" width="46.0" height="38.1" fill="#8a68e8" opacity="0.8"/>
<rect x="194.2" y="1152.2" width="19.1" height="15.2" fill="#6a5ad8" opacity="0.8"/>
<rect x="215.7" y="1154.5" width="13.0" height="15.2" fill="#7050e0" opacity="0.7"/>
<rect x="232.5" y="1152.2" width="9.2" height="26.7" fill="#7050d8" opacity="0.6"/>
<rect x="244.0" y="1148.4" width="23.0" height="38.1" fill="#a868f8" opacity="0.7"/>
<polygon points="190.4,1195.6 217.2,1188.0 237.9,1194.1 237.9,1224.6 190.4,1224.6" fill="#a060f0" opacity="0.9"/>
<polygon points="221.0,1205.5 251.7,1201.7 255.5,1224.6 221.0,1224.6" fill="#9a68f0" opacity="0.8"/>
<rect x="251.7" y="1209.4" width="15.3" height="15.2" fill="#5a40c8" opacity="0.8"/>
<ellipse cx="196.5" cy="1182.7" rx="8.4" ry="9.1" fill="url(#warm)" opacity="1"/>
<ellipse cx="209.6" cy="1167.5" rx="15.3" ry="11.4" fill="url(#cool)" opacity="1"/>
<ellipse cx="224.9" cy="1185.0" rx="19.1" ry="6.1" fill="url(#cyan)" opacity="1"/>
<ellipse cx="259.3" cy="1215.5" rx="11.5" ry="11.4" fill="url(#hot)" opacity="1"/>
<ellipse cx="255.5" cy="1186.5" rx="4.6" ry="4.6" fill="url(#warm)" opacity="1"/>
<ellipse cx="213.4" cy="1152.2" rx="11.5" ry="4.6" fill="url(#cool)" opacity="1"/>
</g>
<clipPath id="c18"><rect x="273.4" y="1148.4" width="76.2" height="76.2"/></clipPath>
<g clip-path="url(#c18)"><rect x="273.4" y="1148.4" width="76.2" height="76.2" fill="#9a62f0"/>
<rect x="273.4" y="1148.4" width="45.7" height="38.1" fill="#8a68e8" opacity="0.8"/>
<rect x="277.2" y="1152.2" width="19.1" height="15.2" fill="#6a5ad8" opacity="0.8"/>
<rect x="298.5" y="1154.5" width="13.0" height="15.2" fill="#7050e0" opacity="0.7"/>
<rect x="315.3" y="1152.2" width="9.1" height="26.7" fill="#7050d8" opacity="0.6"/>
<rect x="326.7" y="1148.4" width="22.9" height="38.1" fill="#a868f8" opacity="0.7"/>
<polygon points="273.4,1195.6 300.1,1188.0 320.6,1194.1 320.6,1224.6 273.4,1224.6" fill="#a060f0" opacity="0.9"/>
<polygon points="303.9,1205.5 334.4,1201.7 338.2,1224.6 303.9,1224.6" fill="#9a68f0" opacity="0.8"/>
<rect x="334.4" y="1209.4" width="15.2" height="15.2" fill="#5a40c8" opacity="0.8"/>
<ellipse cx="279.5" cy="1182.7" rx="7.6" ry="7.6" fill="url(#hot)" opacity="1"/>
<ellipse cx="288.6" cy="1163.6" rx="9.1" ry="7.6" fill="url(#cyan)" opacity="1"/>
<ellipse cx="311.5" cy="1186.5" rx="15.2" ry="3.8" fill="url(#cyan)" opacity="1"/>
<ellipse cx="338.2" cy="1186.5" rx="3.8" ry="4.6" fill="url(#cool)" opacity="1"/>
</g>
<clipPath id="c19"><rect x="356.0" y="1148.4" width="76.6" height="76.2"/></clipPath>
<g clip-path="url(#c19)"><rect x="356.0" y="1148.4" width="76.6" height="76.2" fill="#9a62f0"/>
<rect x="356.0" y="1148.4" width="46.0" height="38.1" fill="#8a68e8" opacity="0.8"/>
<rect x="359.8" y="1152.2" width="19.2" height="15.2" fill="#6a5ad8" opacity="0.8"/>
<rect x="381.3" y="1154.5" width="13.0" height="15.2" fill="#7050e0" opacity="0.7"/>
<rect x="398.1" y="1152.2" width="9.2" height="26.7" fill="#7050d8" opacity="0.6"/>
<rect x="409.6" y="1148.4" width="23.0" height="38.1" fill="#a868f8" opacity="0.7"/>
<polygon points="356.0,1195.6 382.8,1188.0 403.5,1194.1 403.5,1224.6 356.0,1224.6" fill="#a060f0" opacity="0.9"/>
<polygon points="386.6,1205.5 417.3,1201.7 421.1,1224.6 386.6,1224.6" fill="#9a68f0" opacity="0.8"/>
<rect x="417.3" y="1209.4" width="15.3" height="15.2" fill="#5a40c8" opacity="0.8"/>
<ellipse cx="362.1" cy="1182.7" rx="5.4" ry="7.6" fill="url(#cool)" opacity="1"/>
</g>
<text class="ss" x="497.5" y="742.5" font-size="32">Randomly Initialized</text>
<text class="ss" x="497.5" y="780" font-size="32">PQ as learnable</text>
<text class="ss" x="497.5" y="818.8" font-size="32">parameters:</text>
<text class="ss" x="497.5" y="860.8" font-size="32"><tspan fill="#ff0000">Biased</tspan> to training</text>
<text class="ss" x="497.5" y="898.8" font-size="32">data and <tspan fill="#ff0000">inaccurate</tspan></text>
<text class="ss" x="497.5" y="936.8" font-size="32" fill="#ff0000">for individual samples</text>
<text class="ss" x="497.5" y="1100" font-size="32">Anchor point PQ:</text>
<text class="ss" x="497.5" y="1138" font-size="32">cannot describe</text>
<text class="ss" x="497.5" y="1176" font-size="32">semantic regions</text>
<text class="ss" x="810" y="187.9" font-size="31.86" fill="#0000ff" style="font-weight:700;">Dynamic Focus-aware Positional Queries</text>
<text class="ss" x="817" y="240.7" font-size="31.96" fill="#ff0000">Previous attention scores: Where the query looks at?</text>
<text class="sf" x="959.5" y="313.5" font-size="37.8" fill="#111" style="font-style:italic;font-weight:700;">Q</text>
<text class="sf" x="990" y="298.8" font-size="26" fill="#111" style="font-style:italic;">t</text>
<text class="sf" x="989" y="321" font-size="26" fill="#111" style="font-style:italic;">p</text>
<text class="sf" x="1015" y="316.9" font-size="36" textLength="27.5" lengthAdjust="spacingAndGlyphs" fill="#111">=</text>
<text class="sf" x="1050.5" y="313.5" font-size="37.8" fill="#111" style="font-style:italic;">h</text>
<text class="sf" x="1072" y="313.5" font-size="37.8" fill="#111" style="">(</text>
<text class="sf" x="1084.5" y="313.5" font-size="37.8" fill="#111" textLength="30" lengthAdjust="spacingAndGlyphs" style="font-style:italic;font-weight:700;">A</text>
<text class="sf" x="1115" y="297.5" font-size="27" fill="#111"><tspan font-style="italic">t</tspan>−1</text>
<text class="sf" x="1161" y="313.5" font-size="37.8" fill="#111" textLength="36" lengthAdjust="spacingAndGlyphs" style="font-style:italic;font-weight:700;">K</text>
<text class="sf" x="1198" y="297.5" font-size="27" fill="#111"><tspan font-style="italic">t</tspan>−1</text>
<text class="sf" x="1196" y="321" font-size="26" fill="#111" style="font-style:italic;">p</text>
<text class="sf" x="1250.4" y="321.4" font-size="49" fill="#111">+</text>
<text class="sf" x="1286" y="313.5" font-size="37.8" fill="#111" textLength="30" lengthAdjust="spacingAndGlyphs" style="font-style:italic;font-weight:700;">B</text>
<text class="sf" x="1317.5" y="313.5" font-size="37.8" fill="#111" style="">)</text>
<text class="sf" x="1330" y="313.5" font-size="37.8" fill="#111" style="">,</text>
<rect x="1075.6" y="332.1" width="64.8" height="6.4" fill="#ff0000"/>
<rect x="1152.4" y="332.1" width="93.9" height="6.4" fill="#4472c4"/>
<text class="ss" x="821.3" y="389.2" font-size="31.96" fill="#0000ff">Patch positional encodings: What’s the local</text>
<text class="ss" x="821.3" y="432.8" font-size="31.96" fill="#0000ff">information of these areas?</text>
<path d="M1059.6,476.5 Q1047.5,476.5 1047.5,484.5 V537.2 Q1047.5,545.2 1059.6,545.2" fill="none" stroke="#111" stroke-width="2"/>
<path d="M1243.7,476.5 Q1255,476.5 1255,484.5 V537.2 Q1255,545.2 1243.7,545.2" fill="none" stroke="#111" stroke-width="2"/>
<rect x="1069.9" y="497.4" width="28.7" height="29" fill="#9dc3e6" stroke="#333" stroke-width="1.4"/>
<rect x="1114.2" y="497.4" width="29.7" height="29" fill="#a9d18e" stroke="#333" stroke-width="1.4"/>
<rect x="1158.8" y="497.4" width="29.7" height="29" fill="#ffe699" stroke="#333" stroke-width="1.4"/>
<rect x="1203.8" y="497.4" width="29.6" height="29" fill="#c9c9c9" stroke="#333" stroke-width="1.4"/>
<text class="sf" x="906" y="549.2" font-size="26.5" fill="#111" style="">New content</text>
<text class="sf" x="935.8" y="581" font-size="26.5" fill="#111" style="">queries</text>
<text class="sf" x="1023" y="581" font-size="26.5" fill="#111" style="font-style:italic;font-weight:700;">Q</text>
<text class="sf" x="1047" y="568" font-size="19.5" fill="#111"><tspan font-style="italic">t</tspan>+1</text>
<text class="sf" x="1046" y="588" font-size="18.5" fill="#111" style="font-style:italic;font-weight:700;">c</text>
<line x1="1143.9" y1="581.0" x2="1143.9" y2="559.0" stroke="#111" stroke-width="2"/>
<polygon points="1143.9,552.0 1147.4,560.0 1140.4,560.0" fill="#111"/>
<clipPath id="c20"><rect x="0" y="0" width="1" height="1"/></clipPath>
<g transform="matrix(70.00,-44.00,0.00,81.90,1354.30,464.50)"><g clip-path="url(#c20)">
<rect width="1" height="1" fill="#6a58f2"/>
<rect y="0.45" width="1" height="0.55" fill="#8a6cf6"/>
<rect y="0.7" width="1" height="0.3" fill="#a07ef8"/>
<ellipse cx="0.12" cy="0.52" rx="0.22" ry="0.17" fill="#2e8f98"/>
<ellipse cx="0.12" cy="0.5" rx="0.1" ry="0.08" fill="#6ab878" opacity="0.7"/>
<ellipse cx="0.5" cy="0.72" rx="0.3" ry="0.035" fill="#5a40c0" opacity="0.8"/>
</g></g>
<polygon points="1354.3,464.5 1424.3,420.5 1424.3,505.0 1354.3,546.4" fill="none" stroke="#d0d0d8" stroke-width="1.6"/>
<clipPath id="c21"><rect x="0" y="0" width="1" height="1"/></clipPath>
<g transform="matrix(78.20,-43.40,0.00,87.40,1384.60,460.20)"><g clip-path="url(#c21)">
<rect width="1" height="1" fill="#7656f8"/>
<rect y="0.5" width="1" height="0.5" fill="#9470f8"/>
<rect y="0.72" width="1" height="0.28" fill="#a884f8"/>
<ellipse cx="0.1" cy="0.48" rx="0.2" ry="0.14" fill="#5036c8" opacity="0.9"/>
<ellipse cx="0.4" cy="0.76" rx="0.3" ry="0.04" fill="#2a98a8" opacity="0.9"/>
<polygon points="0.15,0.66 0.22,0.56 0.24,0.64" fill="#90e0f0"/>
</g></g>
<polygon points="1384.6,460.2 1462.8,416.8 1462.8,503.6 1384.6,547.6" fill="none" stroke="#e0e0e8" stroke-width="1.6"/>
<text class="sf" x="1363.5" y="545.2" font-size="26" fill="#111" style="font-weight:700">..</text>
<text class="sf" x="1419.5" y="546.1" font-size="26.5" fill="#111" style="">New attention</text>
<text class="sf" x="1461.5" y="578" font-size="26.5" fill="#111" style="">scores</text>
<text class="sf" x="1536" y="578" font-size="26.5" fill="#111" style="font-style:italic;font-weight:700;">A</text>
<text class="sf" x="1557" y="565" font-size="18.5" fill="#111" style="font-style:italic;">t</text>
<line x1="1391.0" y1="578.0" x2="1391.0" y2="557.5" stroke="#111" stroke-width="2"/>
<polygon points="1391.0,550.5 1394.5,558.5 1387.5,558.5" fill="#111"/>
<rect x="827.2" y="591" width="719.8" height="50" rx="3" fill="none" stroke="#111" stroke-width="2.2" transform="translate(0,0)"/>
<text class="sf" x="1096" y="625.7" font-size="29.7" fill="#111" style="">Cross-attention</text>
<path d="M838,656.2 H1266 Q1276.3,656.2 1276.3,666 V848.6 M1276.3,851.4 H1020 Q1010.2,851.4 1010.2,861 V969 H838 Q827.4,969 827.4,958 V667 Q827.4,656.2 838,656.2" fill="none" stroke="#111" stroke-width="2" stroke-dasharray="8 6"/>
<text class="sf" x="836" y="702.2" font-size="26.5" fill="#111" style="">Previous</text>
<text class="sf" x="866" y="733.8" font-size="26.5" fill="#111" style="">pos</text>
<text class="sf" x="829.5" y="764.6" font-size="26.5" fill="#111" style="">encodings</text>
<polygon points="924.8,705.8 963.5,682.0 963.5,729.6 924.8,752.0" fill="#fffbea" stroke="#111" stroke-width="2" stroke-linejoin="round"/>
<text class="sf" x="971" y="700.2" font-size="26.5" fill="#111" style="font-style:italic;font-weight:700;">K</text>
<text class="sf" x="994.5" y="691" font-size="19.5" fill="#111"><tspan font-style="italic">t</tspan>−1</text>
<text class="sf" x="995" y="704" font-size="18.5" fill="#111" style="font-style:italic;">p</text>
<text class="sf" x="978.5" y="753.4" font-size="26.5" fill="#111" style="font-style:italic;">h(·)</text>
<text x="928.4" y="791.4" font-size="38.2" fill="#111" stroke="#fff" stroke-width="1.3" style="font-family:'DejaVu Sans',sans-serif">⊗</text>
<path d="M976,771.6 H1017 V766.6 L1031.2,777.8 L1017,789 V784 H976 Z" fill="#bdd7ee" stroke="#4472c4" stroke-width="1.2"/>
<path d="M1065.4,738 Q1054,738 1054,746 V797.2 Q1054,805.2 1065.4,805.2" fill="none" stroke="#111" stroke-width="2"/>
<path d="M1251,738 Q1262.3,738 1262.3,746 V797.2 Q1262.3,805.2 1251,805.2" fill="none" stroke="#111" stroke-width="2"/>
<rect x="1074.6" y="759" width="29.4" height="28" fill="#9dc3e6" stroke="#333" stroke-width="1.4"/>
<rect x="1119.5" y="759" width="29.4" height="28" fill="#a9d18e" stroke="#333" stroke-width="1.4"/>
<rect x="1164.3" y="759" width="29.4" height="28" fill="#ffe699" stroke="#333" stroke-width="1.4"/>
<rect x="1209" y="759" width="29.5" height="28" fill="#c9c9c9" stroke="#333" stroke-width="1.4"/>
<line x1="1148.9" y1="707.2" x2="1148.9" y2="685.6" stroke="#111" stroke-width="2"/>
<polygon points="1148.9,678.6 1152.4,686.6 1145.4,686.6" fill="#111"/>
<text class="sf" x="1013" y="828.2" font-size="26.5" fill="#111" style="">DFPQ</text>
<text class="sf" x="1090" y="828.2" font-size="26.5" fill="#111" style="font-style:italic;font-weight:700;">Q</text>
<text class="sf" x="1115" y="815" font-size="18.5" fill="#111" style="font-style:italic;">t</text>
<text class="sf" x="1113" y="834" font-size="18.5" fill="#111" style="font-style:italic;font-weight:700;">p</text>
<text class="sf" x="1145.3" y="841.7" font-size="29.2" fill="#111" style="font-weight:700">+</text>
<text class="sf" x="838.5" y="852.8" font-size="26.5" fill="#111" style="font-style:italic;font-weight:700;">A</text>
<text class="sf" x="858" y="840" font-size="19.5" fill="#111"><tspan font-style="italic">t</tspan>−1</text>
<clipPath id="c22"><rect x="0" y="0" width="1" height="1"/></clipPath>
<g transform="matrix(41.40,-22.30,0.00,46.80,903.30,833.10)"><g clip-path="url(#c22)">
<rect width="1" height="1" fill="#6a58f2"/>
<rect y="0.45" width="1" height="0.55" fill="#8a6cf6"/>
<rect y="0.7" width="1" height="0.3" fill="#a07ef8"/>
<ellipse cx="0.12" cy="0.52" rx="0.22" ry="0.17" fill="#2e8f98"/>
<ellipse cx="0.12" cy="0.5" rx="0.1" ry="0.08" fill="#6ab878" opacity="0.7"/>
<ellipse cx="0.5" cy="0.72" rx="0.3" ry="0.035" fill="#5a40c0" opacity="0.8"/>
</g></g>
<clipPath id="c23"><rect x="0" y="0" width="1" height="1"/></clipPath>
<g transform="matrix(43.20,-23.80,0.00,46.00,931.00,834.60)"><g clip-path="url(#c23)">
<rect width="1" height="1" fill="#7656f8"/>
<rect y="0.5" width="1" height="0.5" fill="#9470f8"/>
<rect y="0.72" width="1" height="0.28" fill="#a884f8"/>
<ellipse cx="0.1" cy="0.48" rx="0.2" ry="0.14" fill="#5036c8" opacity="0.9"/>
<ellipse cx="0.4" cy="0.76" rx="0.3" ry="0.04" fill="#2a98a8" opacity="0.9"/>
<polygon points="0.15,0.66 0.22,0.56 0.24,0.64" fill="#90e0f0"/>
</g></g>
<text class="sf" x="915.8" y="879.2" font-size="24" fill="#111" style="font-weight:700">..</text>
<text class="sf" x="838.5" y="899" font-size="26.5" fill="#111" style="">Previous</text>
<text class="sf" x="838.5" y="932.6" font-size="26.5" fill="#111" style="">attention</text>
<text class="sf" x="851.5" y="963.5" font-size="26.5" fill="#111" style="">scores</text>
<path d="M1064.8,869 Q1053.5,869 1053.5,877 V927.5 Q1053.5,935.5 1064.8,935.5" fill="none" stroke="#111" stroke-width="2"/>
<path d="M1249.7,869 Q1261,869 1261,877 V927.5 Q1261,935.5 1249.7,935.5" fill="none" stroke="#111" stroke-width="2"/>
<rect x="1073.2" y="890.6" width="29.4" height="28.9" fill="#9dc3e6" stroke="#333" stroke-width="1.4"/>
<rect x="1118" y="890.6" width="29.5" height="28.9" fill="#a9d18e" stroke="#333" stroke-width="1.4"/>
<rect x="1162.3" y="890.6" width="29.4" height="28.9" fill="#ffe699" stroke="#333" stroke-width="1.4"/>
<rect x="1207.1" y="890.6" width="30" height="28.9" fill="#c9c9c9" stroke="#333" stroke-width="1.4"/>
<text class="sf" x="1038.5" y="955" font-size="26.5" fill="#111" style="">Content queries</text>
<text class="sf" x="1212.5" y="955" font-size="26.5" fill="#111" style="font-style:italic;font-weight:700;">Q</text>
<text class="sf" x="1237" y="941" font-size="18.5" fill="#111" style="font-style:italic;">t</text>
<text class="sf" x="1235" y="961" font-size="18.5" fill="#111" style="font-style:italic;font-weight:700;">c</text>
<text class="sf" x="1393" y="664" font-size="26.5" fill="#111" style="">Pos</text>
<text class="sf" x="1357.3" y="693.4" font-size="26.5" fill="#111" style="">encodings</text>
<line x1="1347.8" y1="706.3" x2="1347.8" y2="684.5" stroke="#111" stroke-width="2"/>
<polygon points="1347.8,677.5 1351.3,685.5 1344.3,685.5" fill="#111"/>
<line x1="1475.0" y1="704.3" x2="1475.0" y2="682.5" stroke="#111" stroke-width="2"/>
<polygon points="1475.0,675.5 1478.5,683.5 1471.5,683.5" fill="#111"/>
<polygon points="1317.5,743.8 1386.6,702.0 1386.6,785.5 1317.5,825.9" fill="#fdf6e3" stroke="#111" stroke-width="2" stroke-linejoin="round"/>
<text class="sf" x="1337" y="774" font-size="26.5" fill="#111" style="font-style:italic;font-weight:700;">K</text>
<text class="sf" x="1363" y="760" font-size="18.5" fill="#111" style="font-style:italic;">t</text>
<text class="sf" x="1362" y="781" font-size="18.5" fill="#111" style="font-style:italic;">p</text>
<polygon points="1442.2,737.1 1511.4,695.7 1511.4,777.5 1442.2,818.6" fill="#fdf6e3" stroke="#111" stroke-width="2" stroke-linejoin="round"/>
<text class="sf" x="1465.5" y="771" font-size="26.5" fill="#111" style="font-style:italic;font-weight:700;">V</text>
<text class="sf" x="1487" y="757" font-size="18.5" fill="#111" style="font-style:italic;">t</text>
<text class="sf" x="1343.9" y="842.2" font-size="27.1" fill="#111" style="font-weight:700">+</text>
<polygon points="1317.5,874.8 1386.6,833.9 1386.6,915.7 1317.5,956.9" fill="#fdf6e3" stroke="#111" stroke-width="2" stroke-linejoin="round"/>
<text class="sf" x="1337" y="905" font-size="26.5" fill="#111" style="font-style:italic;font-weight:700;">K</text>
<text class="sf" x="1363" y="891" font-size="18.5" fill="#111" style="font-style:italic;">t</text>
<text class="sf" x="1362" y="911" font-size="18.5" fill="#111" style="font-style:italic;font-weight:700;">c</text>
<text class="sf" x="1412" y="838" font-size="26.5" fill="#111" style="">Image features</text>
<text class="sf" x="1284.5" y="974.2" font-size="26.5" fill="#111" style="">Image features</text>
<line x1="809.5" y1="993.3" x2="1560" y2="992.5" stroke="#666" stroke-width="1"/>
<text class="ss" x="809" y="1030" font-size="31.9" fill="#3b38ff" style="font-weight:700;">Efficient High-resolution Cross-attention</text>
<text class="ss" x="813.5" y="1074.8" font-size="31.9">Model cross-attention only on the informative areas of</text>
<text class="ss" x="813.5" y="1119" font-size="31.9">high-resolution feature maps</text>
<text class="sf" x="859.5" y="1180.7" font-size="32" fill="#111" style="">HRCA(</text>
<text class="sf" x="957" y="1180.7" font-size="32" fill="#111" style="font-style:italic;font-weight:700;">Q</text>
<text class="sf" x="984" y="1180.7" font-size="32" fill="#111" style="">,</text>
<text class="sf" x="996" y="1180.7" font-size="32" fill="#111" style="font-style:italic;font-weight:700;">K</text>
<text class="sf" x="1025" y="1180.7" font-size="32" fill="#111" style="">,</text>
<text class="sf" x="1040.5" y="1180.7" font-size="32" fill="#111" style="font-style:italic;font-weight:700;">V</text>
<text class="sf" x="1066" y="1180.7" font-size="32" fill="#111" style="">,</text>
<text class="sf" x="1079" y="1180.7" font-size="32" fill="#111" style="">Ω</text>
<text class="sf" x="1100" y="1180.7" font-size="32" fill="#111" style="">)</text>
<text class="sf" x="1119.4" y="1185.3" font-size="37.6" textLength="26" lengthAdjust="spacingAndGlyphs" fill="#111">=</text>
<text class="sf" x="1152" y="1180.7" font-size="32" fill="#111" style="">softmax</text>
<path d="M1281,1131 Q1258,1173 1281,1216" fill="none" stroke="#111" stroke-width="2.6"/>
<path d="M1371,1131 Q1394,1173 1371,1216" fill="none" stroke="#111" stroke-width="2.6"/>
<text class="sf" x="1286" y="1160.5" font-size="32" fill="#111" style="font-style:italic;font-weight:700;">Q</text>
<text class="sf" x="1311" y="1160.5" font-size="32" fill="#111" style="font-style:italic;font-weight:700;">K</text>
<text class="sf" x="1338" y="1146" font-size="21" fill="#111" style="font-style:italic;">′T</text>
<line x1="1285.6" y1="1173" x2="1366.5" y2="1173" stroke="#111" stroke-width="1.4"/>
<path d="M1302,1192 L1307,1189 L1314,1205 L1323,1180 H1350" fill="none" stroke="#111" stroke-width="1.5"/>
<text class="sf" x="1322" y="1203" font-size="32" fill="#111" style="font-style:italic;">D</text>
<text class="sf" x="1398.5" y="1180.7" font-size="32" fill="#111" style="font-style:italic;font-weight:700;">V</text>
<text class="sf" x="1425" y="1168" font-size="22" fill="#111" style="">′</text>
<text class="ss" x="1603.4" y="187.5" font-size="32" fill="#0000ff" style="font-weight:700;">Experiments</text>
<text class="ss" x="1603.7" y="239.2" font-size="32">Quantitative results</text>
<text class="sf" x="1733.8" y="293.8" font-size="32.3" fill="#111" text-anchor="middle" style="">Method</text>
<text class="sf" x="1946.7" y="293.8" font-size="32.3" fill="#111" text-anchor="middle" style="">Backbone</text>
<text class="sf" x="2097.8" y="275.6" font-size="32.3" fill="#111" text-anchor="middle" style="">mIoU</text>
<text class="sf" x="2097.8" y="313.8" font-size="32.3" fill="#111" text-anchor="middle" style="">s.s. (%)</text>
<text class="sf" x="2241.6" y="275.6" font-size="32.3" fill="#111" text-anchor="middle" style="">mIoU</text>
<text class="sf" x="2241.6" y="313.8" font-size="32.3" fill="#111" text-anchor="middle" style="">m.s. (%)</text>
<text class="sf" x="2358.8" y="293.8" font-size="32.3" fill="#111" text-anchor="middle" style="">#P</text>
<text class="sf" x="2445.5" y="293.8" font-size="32.3" fill="#111" text-anchor="middle" style="">#F</text>
<text class="sf" x="1733.8" y="352" font-size="32.3" fill="#111" text-anchor="middle">Mask2former [<tspan fill="#3d7cc4">8</tspan>]</text>
<text class="sf" x="1946.7" y="352" font-size="32.3" fill="#111" text-anchor="middle" style="">R50</text>
<text class="sf" x="2097.8" y="352" font-size="32.3" fill="#111" text-anchor="middle" style="">47.2</text>
<text class="sf" x="2241.6" y="352" font-size="32.3" fill="#111" text-anchor="middle" style="">49.2</text>
<text class="sf" x="2358.8" y="352" font-size="32.3" fill="#111" text-anchor="middle" style="">44</text>
<text class="sf" x="2445.5" y="352" font-size="32.3" fill="#111" text-anchor="middle" style="">71</text>
<text class="sf" x="1733.8" y="389.5" font-size="32.3" fill="#111" text-anchor="middle" style="">FASeg (ours)</text>
<text class="sf" x="1946.7" y="389.5" font-size="32.3" fill="#111" text-anchor="middle" style="">R50</text>
<text class="sf" x="2097.8" y="389.5" font-size="32.3" fill="#111" text-anchor="middle" style="font-weight:700;">48.3</text>
<text class="sf" x="2241.6" y="389.5" font-size="32.3" fill="#111" text-anchor="middle" style="font-weight:700;">49.3</text>
<text class="sf" x="2358.8" y="389.5" font-size="32.3" fill="#111" text-anchor="middle" style="">51</text>
<text class="sf" x="2445.5" y="389.5" font-size="32.3" fill="#111" text-anchor="middle" style="">72</text>
<text class="sf" x="1733.8" y="429.6" font-size="32.3" fill="#111" text-anchor="middle">Mask2former [<tspan fill="#3d7cc4">8</tspan>]</text>
<text class="sf" x="1946.7" y="429.6" font-size="32.3" fill="#111" text-anchor="middle" style="">Swin-T</text>
<text class="sf" x="2097.8" y="429.6" font-size="32.3" fill="#111" text-anchor="middle" style="">47.7</text>
<text class="sf" x="2241.6" y="429.6" font-size="32.3" fill="#111" text-anchor="middle" style="">49.6</text>
<text class="sf" x="2358.8" y="429.6" font-size="32.3" fill="#111" text-anchor="middle" style="">47</text>
<text class="sf" x="2445.5" y="429.6" font-size="32.3" fill="#111" text-anchor="middle" style="">74</text>
<text class="sf" x="1733.8" y="466" font-size="32.3" fill="#111" text-anchor="middle" style="">FASeg (ours)</text>
<text class="sf" x="1946.7" y="466" font-size="32.3" fill="#111" text-anchor="middle" style="">Swin-T</text>
<text class="sf" x="2097.8" y="466" font-size="32.3" fill="#111" text-anchor="middle" style="font-weight:700;">49.6</text>
<text class="sf" x="2241.6" y="466" font-size="32.3" fill="#111" text-anchor="middle" style="font-weight:700;">51.3</text>
<text class="sf" x="2358.8" y="466" font-size="32.3" fill="#111" text-anchor="middle" style="">54</text>
<text class="sf" x="2445.5" y="466" font-size="32.3" fill="#111" text-anchor="middle" style="">75</text>
<text class="sf" x="1733.8" y="506" font-size="32.3" fill="#111" text-anchor="middle">Mask2former [<tspan fill="#3d7cc4">8</tspan>]</text>
<text class="sf" x="1946.7" y="506" font-size="32.3" fill="#111" text-anchor="middle" style="">Swin-B</text>
<text class="sf" x="2097.8" y="506" font-size="32.3" fill="#111" text-anchor="middle" style="">53.9</text>
<text class="sf" x="2241.6" y="506" font-size="32.3" fill="#111" text-anchor="middle" style="">55.1</text>
<text class="sf" x="2358.8" y="506" font-size="32.3" fill="#111" text-anchor="middle" style="">107</text>
<text class="sf" x="2445.5" y="506" font-size="32.3" fill="#111" text-anchor="middle" style="">223</text>
<text class="sf" x="1733.8" y="543.2" font-size="32.3" fill="#111" text-anchor="middle" style="">FASeg (ours)</text>
<text class="sf" x="1946.7" y="543.2" font-size="32.3" fill="#111" text-anchor="middle" style="">Swin-B</text>
<text class="sf" x="2097.8" y="543.2" font-size="32.3" fill="#111" text-anchor="middle" style="font-weight:700;">55.0</text>
<text class="sf" x="2241.6" y="543.2" font-size="32.3" fill="#111" text-anchor="middle" style="font-weight:700;">56.0</text>
<text class="sf" x="2358.8" y="543.2" font-size="32.3" fill="#111" text-anchor="middle" style="">113</text>
<text class="sf" x="2445.5" y="543.2" font-size="32.3" fill="#111" text-anchor="middle" style="">225</text>
<g stroke="#444" stroke-width="1.3"><line x1="1863" y1="250" x2="1863" y2="553.3"/><line x1="2029.7" y1="250" x2="2029.7" y2="553.3"/></g>
<g stroke="#111" stroke-width="2.4"><line x1="1608.2" y1="325.8" x2="2486.3" y2="325.8"/><line x1="1608.2" y1="401.9" x2="2486.3" y2="401.9"/><line x1="1608.2" y1="479.4" x2="2486.3" y2="479.4"/></g>
<text class="sf" x="1785" y="620" font-size="36" fill="#111" style="font-style:italic;font-weight:700;">K</text>
<text class="sf" x="1815.5" y="628" font-size="24" fill="#111" style="font-style:italic;">p</text>
<text class="sf" x="2121.1" y="598.2" font-size="33.3" fill="#111" text-anchor="middle">Mask2former [<tspan fill="#3d7cc4">8</tspan>]</text>
<text class="sf" x="2121.5" y="639.4" font-size="33.3" fill="#111" text-anchor="middle" style="">mIoU s.s. (%)</text>
<text class="sf" x="2370.7" y="598.2" font-size="33.3" fill="#111" text-anchor="middle" style="">FASeg</text>
<text class="sf" x="2370" y="639.4" font-size="33.3" fill="#111" text-anchor="middle" style="">mIoU s.s. (%)</text>
<text class="sf" x="1809.6" y="682" font-size="33.3" fill="#111" text-anchor="middle">Sinusoidal [<tspan fill="#3d7cc4">3</tspan>]</text>
<text class="sf" x="2121.5" y="682" font-size="33.3" fill="#111" text-anchor="middle" style="">47.2</text>
<text class="sf" x="2369" y="682" font-size="33.3" fill="#111" text-anchor="middle" style="">46.9</text>
<text class="sf" x="1809.6" y="722" font-size="33.3" fill="#111" text-anchor="middle">Learnable absolute [<tspan fill="#3d7cc4">19</tspan>]</text>
<text class="sf" x="2121.5" y="722" font-size="33.3" fill="#111" text-anchor="middle" style="">47.0</text>
<text class="sf" x="2369" y="722" font-size="33.3" fill="#111" text-anchor="middle" style="">47.5</text>
<text class="sf" x="1809.6" y="762" font-size="33.3" fill="#111" text-anchor="middle">Conditional [<tspan fill="#3d7cc4">10</tspan>]</text>
<text class="sf" x="2121.5" y="762" font-size="33.3" fill="#111" text-anchor="middle" style="">47.3</text>
<text class="sf" x="2369" y="762" font-size="33.3" fill="#111" text-anchor="middle" style="">48.3</text>
<g stroke="#444" stroke-width="1.3"><line x1="1987.9" y1="572.7" x2="1987.9" y2="774.8"/><line x1="2256.2" y1="572.7" x2="2256.2" y2="774.8"/></g>
<line x1="1637.3" y1="653.9" x2="2483.7" y2="653.9" stroke="#111" stroke-width="2.6"/>
<text class="ss" x="1603.7" y="822.8" font-size="32">Qualitative results</text>
<clipPath id="c24"><rect x="1604.4" y="864.0" width="85.6" height="84.4"/></clipPath>
<g clip-path="url(#c24)"><rect x="1604.4" y="864.0" width="85.6" height="84.4" fill="#b0906c"/>
<rect x="1604.4" y="864.0" width="24.0" height="27.0" fill="#4a2410" opacity="1"/>
<rect x="1651.5" y="864.0" width="30.0" height="16.9" fill="#b4a4b0" opacity="1"/>
<polygon points="1604.4,897.8 1642.9,885.1 1642.9,927.3 1608.7,935.7 1604.4,935.7" fill="#8a5430" opacity="1"/>
<rect x="1606.1" y="899.4" width="34.2" height="2.5" fill="#c09070" opacity="0.6"/>
<rect x="1606.1" y="910.4" width="34.2" height="2.5" fill="#c09070" opacity="0.6"/>
<rect x="1651.5" y="897.8" width="21.4" height="40.5" fill="#8a4420" opacity="1"/>
<rect x="1674.6" y="902.0" width="15.4" height="29.5" fill="#dcd4dc" opacity="1"/>
<rect x="1651.5" y="889.3" width="30.0" height="8.4" fill="#607058" opacity="1"/>
<polygon points="1604.4,933.2 1647.2,928.1 1690.0,934.9 1690.0,948.4 1604.4,948.4" fill="#3e1a0a" opacity="1"/>
<rect x="1647.2" y="878.3" width="36.0" height="22.8" fill="none" stroke="#ee2a1a" stroke-width="1.6"/>
</g>
<clipPath id="c25"><rect x="1692.8" y="864.0" width="85.0" height="84.4"/></clipPath>
<g clip-path="url(#c25)"><rect x="1692.8" y="864.0" width="85.0" height="84.4" fill="#7442cc"/>
<rect x="1692.8" y="864.0" width="85.0" height="38.0" fill="#7c48d2" opacity="1"/>
<rect x="1692.8" y="864.0" width="17.0" height="29.5" fill="#5a2cb8" opacity="1"/>
<rect x="1722.5" y="864.0" width="21.2" height="38.0" fill="#8a56d6" opacity="0.8"/>
<rect x="1745.5" y="864.0" width="32.3" height="33.8" fill="#8450d4" opacity="0.8"/>
<polygon points="1692.8,893.5 1731.0,885.1 1731.0,923.1 1697.0,935.7 1692.8,935.7" fill="#8266cc" opacity="0.85"/>
<rect x="1739.5" y="893.5" width="17.0" height="42.2" fill="#7a3aa8" opacity="1"/>
<rect x="1765.0" y="902.0" width="12.8" height="25.3" fill="#9a7ad8" opacity="1"/>
<rect x="1692.8" y="933.2" width="85.0" height="15.2" fill="#5c22aa" opacity="1"/>
<polygon points="1692.8,935.7 1735.3,927.3 1777.8,935.7 1777.8,948.4 1692.8,948.4" fill="#5e24ac" opacity="0.9"/>
<ellipse cx="1709.8" cy="893.5" rx="17.0" ry="12.7" fill="url(#cool)" opacity="1"/>
<ellipse cx="1728.5" cy="889.3" rx="7.6" ry="7.6" fill="url(#hot)" opacity="1"/>
<ellipse cx="1737.0" cy="885.9" rx="6.0" ry="6.8" fill="url(#hot)" opacity="1"/>
<ellipse cx="1752.3" cy="891.0" rx="6.8" ry="5.1" fill="url(#cool)" opacity="1"/>
</g>
<clipPath id="c26"><rect x="1781.0" y="864.0" width="85.7" height="84.4"/></clipPath>
<g clip-path="url(#c26)"><rect x="1781.0" y="864.0" width="85.7" height="84.4" fill="#7442cc"/>
<rect x="1781.0" y="864.0" width="85.7" height="38.0" fill="#7c48d2" opacity="1"/>
<rect x="1781.0" y="864.0" width="17.1" height="29.5" fill="#5a2cb8" opacity="1"/>
<rect x="1811.0" y="864.0" width="21.4" height="38.0" fill="#8a56d6" opacity="0.8"/>
<rect x="1834.1" y="864.0" width="32.6" height="33.8" fill="#8450d4" opacity="0.8"/>
<polygon points="1781.0,893.5 1819.6,885.1 1819.6,923.1 1785.3,935.7 1781.0,935.7" fill="#8266cc" opacity="0.85"/>
<rect x="1828.1" y="893.5" width="17.1" height="42.2" fill="#7a3aa8" opacity="1"/>
<rect x="1853.8" y="902.0" width="12.9" height="25.3" fill="#9a7ad8" opacity="1"/>
<rect x="1781.0" y="933.2" width="85.7" height="15.2" fill="#5c22aa" opacity="1"/>
<polygon points="1781.0,935.7 1823.8,927.3 1866.7,935.7 1866.7,948.4 1781.0,948.4" fill="#5e24ac" opacity="0.9"/>
<ellipse cx="1832.4" cy="889.3" rx="7.7" ry="6.8" fill="url(#hot)" opacity="1"/>
</g>
<clipPath id="c27"><rect x="1869.8" y="864.0" width="85.1" height="84.4"/></clipPath>
<g clip-path="url(#c27)"><rect x="1869.8" y="864.0" width="85.1" height="84.4" fill="#7442cc"/>
<rect x="1869.8" y="864.0" width="85.1" height="38.0" fill="#7c48d2" opacity="1"/>
<rect x="1869.8" y="864.0" width="17.0" height="29.5" fill="#5a2cb8" opacity="1"/>
<rect x="1899.6" y="864.0" width="21.3" height="38.0" fill="#8a56d6" opacity="0.8"/>
<rect x="1922.6" y="864.0" width="32.3" height="33.8" fill="#8450d4" opacity="0.8"/>
<polygon points="1869.8,893.5 1908.1,885.1 1908.1,923.1 1874.1,935.7 1869.8,935.7" fill="#8266cc" opacity="0.85"/>
<rect x="1916.6" y="893.5" width="17.0" height="42.2" fill="#7a3aa8" opacity="1"/>
<rect x="1942.1" y="902.0" width="12.8" height="25.3" fill="#9a7ad8" opacity="1"/>
<rect x="1869.8" y="933.2" width="85.1" height="15.2" fill="#5c22aa" opacity="1"/>
<polygon points="1869.8,935.7 1912.3,927.3 1954.9,935.7 1954.9,948.4 1869.8,948.4" fill="#5e24ac" opacity="0.9"/>
<rect x="1899.6" y="864.0" width="17.0" height="67.5" fill="#70a8d0" opacity="0.4"/>
<ellipse cx="1922.6" cy="889.3" rx="6.0" ry="5.9" fill="url(#hot)" opacity="1"/>
</g>
<clipPath id="c28"><rect x="1961.3" y="864.0" width="84.5" height="84.4"/></clipPath>
<g clip-path="url(#c28)"><rect x="1961.3" y="864.0" width="84.5" height="84.4" fill="#7442cc"/>
<rect x="1961.3" y="864.0" width="84.5" height="38.0" fill="#7c48d2" opacity="1"/>
<rect x="1961.3" y="864.0" width="16.9" height="29.5" fill="#5a2cb8" opacity="1"/>
<rect x="1990.9" y="864.0" width="21.1" height="38.0" fill="#8a56d6" opacity="0.8"/>
<rect x="2013.7" y="864.0" width="32.1" height="33.8" fill="#8450d4" opacity="0.8"/>
<polygon points="1961.3,893.5 1999.3,885.1 1999.3,923.1 1965.5,935.7 1961.3,935.7" fill="#8266cc" opacity="0.85"/>
<rect x="2007.8" y="893.5" width="16.9" height="42.2" fill="#7a3aa8" opacity="1"/>
<rect x="2033.1" y="902.0" width="12.7" height="25.3" fill="#9a7ad8" opacity="1"/>
<rect x="1961.3" y="933.2" width="84.5" height="15.2" fill="#5c22aa" opacity="1"/>
<polygon points="1961.3,935.7 2003.5,927.3 2045.8,935.7 2045.8,948.4 1961.3,948.4" fill="#5e24ac" opacity="0.9"/>
<ellipse cx="1974.0" cy="906.2" rx="21.1" ry="33.8" fill="url(#cool)" opacity="1"/>
<ellipse cx="2007.8" cy="889.3" rx="10.1" ry="8.4" fill="url(#hot)" opacity="1"/>
<ellipse cx="2020.5" cy="891.0" rx="7.6" ry="5.9" fill="url(#warm)" opacity="1"/>
</g>
<clipPath id="c29"><rect x="2049.8" y="864.0" width="84.4" height="84.4"/></clipPath>
<g clip-path="url(#c29)"><rect x="2049.8" y="864.0" width="84.4" height="84.4" fill="#7442cc"/>
<rect x="2049.8" y="864.0" width="84.4" height="38.0" fill="#7c48d2" opacity="1"/>
<rect x="2049.8" y="864.0" width="16.9" height="29.5" fill="#5a2cb8" opacity="1"/>
<rect x="2079.3" y="864.0" width="21.1" height="38.0" fill="#8a56d6" opacity="0.8"/>
<rect x="2102.1" y="864.0" width="32.1" height="33.8" fill="#8450d4" opacity="0.8"/>
<polygon points="2049.8,893.5 2087.8,885.1 2087.8,923.1 2054.0,935.7 2049.8,935.7" fill="#8266cc" opacity="0.85"/>
<rect x="2096.2" y="893.5" width="16.9" height="42.2" fill="#7a3aa8" opacity="1"/>
<rect x="2121.5" y="902.0" width="12.7" height="25.3" fill="#9a7ad8" opacity="1"/>
<rect x="2049.8" y="933.2" width="84.4" height="15.2" fill="#5c22aa" opacity="1"/>
<polygon points="2049.8,935.7 2092.0,927.3 2134.2,935.7 2134.2,948.4 2049.8,948.4" fill="#5e24ac" opacity="0.9"/>
<ellipse cx="2097.1" cy="887.6" rx="5.9" ry="6.8" fill="url(#hot)" opacity="1"/>
<ellipse cx="2117.3" cy="889.3" rx="5.1" ry="5.9" fill="url(#hot)" opacity="1"/>
</g>
<clipPath id="c30"><rect x="2138.6" y="864.0" width="84.1" height="84.4"/></clipPath>
<g clip-path="url(#c30)"><rect x="2138.6" y="864.0" width="84.1" height="84.4" fill="#7442cc"/>
<rect x="2138.6" y="864.0" width="84.1" height="38.0" fill="#7c48d2" opacity="1"/>
<rect x="2138.6" y="864.0" width="16.8" height="29.5" fill="#5a2cb8" opacity="1"/>
<rect x="2168.0" y="864.0" width="21.0" height="38.0" fill="#8a56d6" opacity="0.8"/>
<rect x="2190.7" y="864.0" width="32.0" height="33.8" fill="#8450d4" opacity="0.8"/>
<polygon points="2138.6,893.5 2176.4,885.1 2176.4,923.1 2142.8,935.7 2138.6,935.7" fill="#8266cc" opacity="0.85"/>
<rect x="2184.9" y="893.5" width="16.8" height="42.2" fill="#7a3aa8" opacity="1"/>
<rect x="2210.1" y="902.0" width="12.6" height="25.3" fill="#9a7ad8" opacity="1"/>
<rect x="2138.6" y="933.2" width="84.1" height="15.2" fill="#5c22aa" opacity="1"/>
<polygon points="2138.6,935.7 2180.6,927.3 2222.7,935.7 2222.7,948.4 2138.6,948.4" fill="#5e24ac" opacity="0.9"/>
<ellipse cx="2185.7" cy="886.8" rx="5.0" ry="5.9" fill="url(#warm)" opacity="1"/>
<ellipse cx="2205.9" cy="889.3" rx="5.0" ry="5.1" fill="url(#warm)" opacity="1"/>
<ellipse cx="2210.1" cy="940.0" rx="5.0" ry="6.8" fill="url(#cool)" opacity="1"/>
</g>
<clipPath id="c31"><rect x="2229.6" y="864.0" width="84.1" height="84.4"/></clipPath>
<g clip-path="url(#c31)"><rect x="2229.6" y="864.0" width="84.1" height="84.4" fill="#7442cc"/>
<rect x="2229.6" y="864.0" width="84.1" height="38.0" fill="#7c48d2" opacity="1"/>
<rect x="2229.6" y="864.0" width="16.8" height="29.5" fill="#5a2cb8" opacity="1"/>
<rect x="2259.0" y="864.0" width="21.0" height="38.0" fill="#8a56d6" opacity="0.8"/>
<rect x="2281.7" y="864.0" width="32.0" height="33.8" fill="#8450d4" opacity="0.8"/>
<polygon points="2229.6,893.5 2267.4,885.1 2267.4,923.1 2233.8,935.7 2229.6,935.7" fill="#8266cc" opacity="0.85"/>
<rect x="2275.9" y="893.5" width="16.8" height="42.2" fill="#7a3aa8" opacity="1"/>
<rect x="2301.1" y="902.0" width="12.6" height="25.3" fill="#9a7ad8" opacity="1"/>
<rect x="2229.6" y="933.2" width="84.1" height="15.2" fill="#5c22aa" opacity="1"/>
<polygon points="2229.6,935.7 2271.6,927.3 2313.7,935.7 2313.7,948.4 2229.6,948.4" fill="#5e24ac" opacity="0.9"/>
<ellipse cx="2271.6" cy="886.8" rx="7.6" ry="7.6" fill="url(#hot)" opacity="1"/>
<ellipse cx="2291.8" cy="889.3" rx="6.7" ry="6.8" fill="url(#hot)" opacity="1"/>
</g>
<clipPath id="c32"><rect x="2318.0" y="864.0" width="84.5" height="84.4"/></clipPath>
<g clip-path="url(#c32)"><rect x="2318.0" y="864.0" width="84.5" height="84.4" fill="#7442cc"/>
<rect x="2318.0" y="864.0" width="84.5" height="38.0" fill="#7c48d2" opacity="1"/>
<rect x="2318.0" y="864.0" width="16.9" height="29.5" fill="#5a2cb8" opacity="1"/>
<rect x="2347.6" y="864.0" width="21.1" height="38.0" fill="#8a56d6" opacity="0.8"/>
<rect x="2370.4" y="864.0" width="32.1" height="33.8" fill="#8450d4" opacity="0.8"/>
<polygon points="2318.0,893.5 2356.0,885.1 2356.0,923.1 2322.2,935.7 2318.0,935.7" fill="#8266cc" opacity="0.85"/>
<rect x="2364.5" y="893.5" width="16.9" height="42.2" fill="#7a3aa8" opacity="1"/>
<rect x="2389.8" y="902.0" width="12.7" height="25.3" fill="#9a7ad8" opacity="1"/>
<rect x="2318.0" y="933.2" width="84.5" height="15.2" fill="#5c22aa" opacity="1"/>
<polygon points="2318.0,935.7 2360.2,927.3 2402.5,935.7 2402.5,948.4 2318.0,948.4" fill="#5e24ac" opacity="0.9"/>
<ellipse cx="2365.3" cy="885.9" rx="5.9" ry="6.8" fill="url(#hot)" opacity="1"/>
<ellipse cx="2385.6" cy="889.3" rx="5.9" ry="6.8" fill="url(#hot)" opacity="1"/>
</g>
<clipPath id="c33"><rect x="2406.5" y="864.0" width="84.5" height="84.4"/></clipPath>
<g clip-path="url(#c33)"><rect x="2406.5" y="864.0" width="84.5" height="84.4" fill="#7442cc"/>
<rect x="2406.5" y="864.0" width="84.5" height="38.0" fill="#7c48d2" opacity="1"/>
<rect x="2406.5" y="864.0" width="16.9" height="29.5" fill="#5a2cb8" opacity="1"/>
<rect x="2436.1" y="864.0" width="21.1" height="38.0" fill="#8a56d6" opacity="0.8"/>
<rect x="2458.9" y="864.0" width="32.1" height="33.8" fill="#8450d4" opacity="0.8"/>
<polygon points="2406.5,893.5 2444.5,885.1 2444.5,923.1 2410.7,935.7 2406.5,935.7" fill="#8266cc" opacity="0.85"/>
<rect x="2453.0" y="893.5" width="16.9" height="42.2" fill="#7a3aa8" opacity="1"/>
<rect x="2478.3" y="902.0" width="12.7" height="25.3" fill="#9a7ad8" opacity="1"/>
<rect x="2406.5" y="933.2" width="84.5" height="15.2" fill="#5c22aa" opacity="1"/>
<polygon points="2406.5,935.7 2448.8,927.3 2491.0,935.7 2491.0,948.4 2406.5,948.4" fill="#5e24ac" opacity="0.9"/>
<ellipse cx="2453.8" cy="885.9" rx="5.1" ry="5.9" fill="url(#warm)" opacity="1"/>
<ellipse cx="2474.1" cy="889.3" rx="5.1" ry="5.1" fill="url(#warm)" opacity="1"/>
</g>
<clipPath id="c34"><rect x="1604.4" y="953.1" width="85.6" height="84.9"/></clipPath>
<g clip-path="url(#c34)"><rect x="1604.4" y="953.1" width="85.6" height="84.9" fill="#2a1812"/>
<rect x="1604.4" y="953.1" width="30.0" height="38.2" fill="#d6cebe" opacity="1"/>
<rect x="1607.8" y="957.3" width="23.1" height="29.7" fill="#e8e4dc" opacity="1"/>
<rect x="1634.4" y="953.1" width="25.7" height="50.9" fill="#c0b898" opacity="1"/>
<ellipse cx="1644.6" cy="965.8" rx="7.7" ry="8.5" fill="#f4e4c8" opacity="1"/>
<rect x="1643.8" y="974.3" width="1.7" height="29.7" fill="#b0a890" opacity="1"/>
<polygon points="1657.5,987.1 1690.0,974.3 1690.0,1038.0 1657.5,1038.0" fill="#4a1018" opacity="1"/>
<rect x="1664.3" y="991.3" width="25.7" height="25.5" fill="#7a1a2a" opacity="0.8"/>
<rect x="1604.4" y="1002.3" width="51.4" height="35.7" fill="#2e1610" opacity="1"/>
<rect x="1604.4" y="991.3" width="25.7" height="8.5" fill="#b0a8a8" opacity="0.8"/>
<rect x="1630.1" y="954.8" width="28.2" height="61.1" fill="none" stroke="#ee2a1a" stroke-width="1.6"/>
</g>
<clipPath id="c35"><rect x="1692.8" y="953.1" width="85.0" height="84.9"/></clipPath>
<g clip-path="url(#c35)"><rect x="1692.8" y="953.1" width="85.0" height="84.9" fill="#4a3ec2"/>
<rect x="1692.8" y="953.1" width="29.7" height="32.3" fill="#7e78e2" opacity="1"/>
<rect x="1697.0" y="957.3" width="21.2" height="23.8" fill="#8a86e8" opacity="0.8"/>
<rect x="1722.5" y="953.1" width="23.8" height="46.7" fill="#6a52d6" opacity="1"/>
<rect x="1746.3" y="953.1" width="31.4" height="21.2" fill="#5a4ed0" opacity="1"/>
<polygon points="1743.8,982.8 1777.8,970.1 1777.8,1038.0 1743.8,1038.0" fill="#3e32aa" opacity="1"/>
<rect x="1692.8" y="999.8" width="49.3" height="38.2" fill="#3a2c9c" opacity="1"/>
<rect x="1692.8" y="997.2" width="51.0" height="4.2" fill="#6a66d8" opacity="0.7"/>
<rect x="1743.8" y="953.1" width="5.1" height="84.9" fill="#2e2480" opacity="0.8"/>
<ellipse cx="1705.5" cy="1008.3" rx="25.5" ry="17.0" fill="url(#cool)" opacity="1"/>
<ellipse cx="1732.8" cy="995.5" rx="7.6" ry="29.7" fill="url(#warm)" opacity="1"/>
<ellipse cx="1732.8" cy="968.4" rx="11.1" ry="11.9" fill="url(#hot)" opacity="1"/>
<ellipse cx="1731.0" cy="1012.5" rx="6.0" ry="6.8" fill="url(#warm)" opacity="1"/>
<ellipse cx="1709.8" cy="965.8" rx="17.0" ry="12.7" fill="url(#cyan)" opacity="1"/>
</g>
<clipPath id="c36"><rect x="1781.0" y="953.1" width="85.7" height="84.9"/></clipPath>
<g clip-path="url(#c36)"><rect x="1781.0" y="953.1" width="85.7" height="84.9" fill="#4a3ec2"/>
<rect x="1781.0" y="953.1" width="30.0" height="32.3" fill="#7e78e2" opacity="1"/>
<rect x="1785.3" y="957.3" width="21.4" height="23.8" fill="#8a86e8" opacity="0.8"/>
<rect x="1811.0" y="953.1" width="24.0" height="46.7" fill="#6a52d6" opacity="1"/>
<rect x="1835.0" y="953.1" width="31.7" height="21.2" fill="#5a4ed0" opacity="1"/>
<polygon points="1832.4,982.8 1866.7,970.1 1866.7,1038.0 1832.4,1038.0" fill="#3e32aa" opacity="1"/>
<rect x="1781.0" y="999.8" width="49.7" height="38.2" fill="#3a2c9c" opacity="1"/>
<rect x="1781.0" y="997.2" width="51.4" height="4.2" fill="#6a66d8" opacity="0.7"/>
<rect x="1832.4" y="953.1" width="5.1" height="84.9" fill="#2e2480" opacity="0.8"/>
<ellipse cx="1819.6" cy="970.1" rx="10.3" ry="10.2" fill="url(#hot)" opacity="1"/>
<ellipse cx="1819.6" cy="995.5" rx="5.1" ry="25.5" fill="url(#warm)" opacity="1"/>
<ellipse cx="1798.1" cy="1005.7" rx="17.1" ry="8.5" fill="url(#cool)" opacity="1"/>
<ellipse cx="1793.9" cy="1029.5" rx="12.9" ry="10.2" fill="url(#cool)" opacity="1"/>
</g>
<clipPath id="c37"><rect x="1869.8" y="953.1" width="85.1" height="84.9"/></clipPath>
<g clip-path="url(#c37)"><rect x="1869.8" y="953.1" width="85.1" height="84.9" fill="#4a3ec2"/>
<rect x="1869.8" y="953.1" width="29.8" height="32.3" fill="#7e78e2" opacity="1"/>
<rect x="1874.1" y="957.3" width="21.3" height="23.8" fill="#8a86e8" opacity="0.8"/>
<rect x="1899.6" y="953.1" width="23.8" height="46.7" fill="#6a52d6" opacity="1"/>
<rect x="1923.4" y="953.1" width="31.5" height="21.2" fill="#5a4ed0" opacity="1"/>
<polygon points="1920.9,982.8 1954.9,970.1 1954.9,1038.0 1920.9,1038.0" fill="#3e32aa" opacity="1"/>
<rect x="1869.8" y="999.8" width="49.4" height="38.2" fill="#3a2c9c" opacity="1"/>
<rect x="1869.8" y="997.2" width="51.1" height="4.2" fill="#6a66d8" opacity="0.7"/>
<rect x="1920.9" y="953.1" width="5.1" height="84.9" fill="#2e2480" opacity="0.8"/>
<ellipse cx="1908.1" cy="970.1" rx="11.1" ry="8.5" fill="url(#warm)" opacity="1"/>
<ellipse cx="1908.1" cy="995.5" rx="4.3" ry="21.2" fill="url(#cool)" opacity="1"/>
</g>
<clipPath id="c38"><rect x="1961.3" y="953.1" width="84.5" height="84.9"/></clipPath>
<g clip-path="url(#c38)"><rect x="1961.3" y="953.1" width="84.5" height="84.9" fill="#4a3ec2"/>
<rect x="1961.3" y="953.1" width="29.6" height="32.3" fill="#7e78e2" opacity="1"/>
<rect x="1965.5" y="957.3" width="21.1" height="23.8" fill="#8a86e8" opacity="0.8"/>
<rect x="1990.9" y="953.1" width="23.7" height="46.7" fill="#6a52d6" opacity="1"/>
<rect x="2014.5" y="953.1" width="31.3" height="21.2" fill="#5a4ed0" opacity="1"/>
<polygon points="2012.0,982.8 2045.8,970.1 2045.8,1038.0 2012.0,1038.0" fill="#3e32aa" opacity="1"/>
<rect x="1961.3" y="999.8" width="49.0" height="38.2" fill="#3a2c9c" opacity="1"/>
<rect x="1961.3" y="997.2" width="50.7" height="4.2" fill="#6a66d8" opacity="0.7"/>
<rect x="2012.0" y="953.1" width="5.1" height="84.9" fill="#2e2480" opacity="0.8"/>
<ellipse cx="2001.0" cy="968.4" rx="9.3" ry="10.2" fill="url(#hot)" opacity="1"/>
<ellipse cx="1999.3" cy="995.5" rx="5.9" ry="27.2" fill="url(#hot)" opacity="1"/>
<ellipse cx="1978.2" cy="1008.3" rx="16.9" ry="6.8" fill="url(#cool)" opacity="1"/>
</g>
<clipPath id="c39"><rect x="2049.8" y="953.1" width="84.4" height="84.9"/></clipPath>
<g clip-path="url(#c39)"><rect x="2049.8" y="953.1" width="84.4" height="84.9" fill="#4a3ec2"/>
<rect x="2049.8" y="953.1" width="29.5" height="32.3" fill="#7e78e2" opacity="1"/>
<rect x="2054.0" y="957.3" width="21.1" height="23.8" fill="#8a86e8" opacity="0.8"/>
<rect x="2079.3" y="953.1" width="23.6" height="46.7" fill="#6a52d6" opacity="1"/>
<rect x="2103.0" y="953.1" width="31.2" height="21.2" fill="#5a4ed0" opacity="1"/>
<polygon points="2100.4,982.8 2134.2,970.1 2134.2,1038.0 2100.4,1038.0" fill="#3e32aa" opacity="1"/>
<rect x="2049.8" y="999.8" width="49.0" height="38.2" fill="#3a2c9c" opacity="1"/>
<rect x="2049.8" y="997.2" width="50.6" height="4.2" fill="#6a66d8" opacity="0.7"/>
<rect x="2100.4" y="953.1" width="5.1" height="84.9" fill="#2e2480" opacity="0.8"/>
<ellipse cx="2090.3" cy="968.4" rx="8.4" ry="8.5" fill="url(#hot)" opacity="1"/>
<ellipse cx="2087.8" cy="991.3" rx="4.2" ry="17.0" fill="url(#cool)" opacity="1"/>
</g>
<clipPath id="c40"><rect x="2138.6" y="953.1" width="84.1" height="84.9"/></clipPath>
<g clip-path="url(#c40)"><rect x="2138.6" y="953.1" width="84.1" height="84.9" fill="#4a3ec2"/>
<rect x="2138.6" y="953.1" width="29.4" height="32.3" fill="#7e78e2" opacity="1"/>
<rect x="2142.8" y="957.3" width="21.0" height="23.8" fill="#8a86e8" opacity="0.8"/>
<rect x="2168.0" y="953.1" width="23.5" height="46.7" fill="#6a52d6" opacity="1"/>
<rect x="2191.6" y="953.1" width="31.1" height="21.2" fill="#5a4ed0" opacity="1"/>
<polygon points="2189.1,982.8 2222.7,970.1 2222.7,1038.0 2189.1,1038.0" fill="#3e32aa" opacity="1"/>
<rect x="2138.6" y="999.8" width="48.8" height="38.2" fill="#3a2c9c" opacity="1"/>
<rect x="2138.6" y="997.2" width="50.5" height="4.2" fill="#6a66d8" opacity="0.7"/>
<rect x="2189.1" y="953.1" width="5.0" height="84.9" fill="#2e2480" opacity="0.8"/>
<ellipse cx="2176.4" cy="968.4" rx="8.4" ry="8.5" fill="url(#cool)" opacity="1"/>
<ellipse cx="2176.4" cy="991.3" rx="3.4" ry="17.0" fill="url(#cyan)" opacity="1"/>
</g>
<clipPath id="c41"><rect x="2229.6" y="953.1" width="84.1" height="84.9"/></clipPath>
<g clip-path="url(#c41)"><rect x="2229.6" y="953.1" width="84.1" height="84.9" fill="#4a3ec2"/>
<rect x="2229.6" y="953.1" width="29.4" height="32.3" fill="#7e78e2" opacity="1"/>
<rect x="2233.8" y="957.3" width="21.0" height="23.8" fill="#8a86e8" opacity="0.8"/>
<rect x="2259.0" y="953.1" width="23.5" height="46.7" fill="#6a52d6" opacity="1"/>
<rect x="2282.6" y="953.1" width="31.1" height="21.2" fill="#5a4ed0" opacity="1"/>
<polygon points="2280.1,982.8 2313.7,970.1 2313.7,1038.0 2280.1,1038.0" fill="#3e32aa" opacity="1"/>
<rect x="2229.6" y="999.8" width="48.8" height="38.2" fill="#3a2c9c" opacity="1"/>
<rect x="2229.6" y="997.2" width="50.5" height="4.2" fill="#6a66d8" opacity="0.7"/>
<rect x="2280.1" y="953.1" width="5.0" height="84.9" fill="#2e2480" opacity="0.8"/>
<ellipse cx="2263.2" cy="970.1" rx="10.1" ry="8.5" fill="url(#warm)" opacity="1"/>
<ellipse cx="2263.2" cy="991.3" rx="4.2" ry="21.2" fill="url(#cool)" opacity="1"/>
</g>
<clipPath id="c42"><rect x="2318.0" y="953.1" width="84.5" height="84.9"/></clipPath>
<g clip-path="url(#c42)"><rect x="2318.0" y="953.1" width="84.5" height="84.9" fill="#4a3ec2"/>
<rect x="2318.0" y="953.1" width="29.6" height="32.3" fill="#7e78e2" opacity="1"/>
<rect x="2322.2" y="957.3" width="21.1" height="23.8" fill="#8a86e8" opacity="0.8"/>
<rect x="2347.6" y="953.1" width="23.7" height="46.7" fill="#6a52d6" opacity="1"/>
<rect x="2371.2" y="953.1" width="31.3" height="21.2" fill="#5a4ed0" opacity="1"/>
<polygon points="2368.7,982.8 2402.5,970.1 2402.5,1038.0 2368.7,1038.0" fill="#3e32aa" opacity="1"/>
<rect x="2318.0" y="999.8" width="49.0" height="38.2" fill="#3a2c9c" opacity="1"/>
<rect x="2318.0" y="997.2" width="50.7" height="4.2" fill="#6a66d8" opacity="0.7"/>
<rect x="2368.7" y="953.1" width="5.1" height="84.9" fill="#2e2480" opacity="0.8"/>
<ellipse cx="2356.0" cy="970.1" rx="8.5" ry="6.8" fill="url(#warm)" opacity="1"/>
<ellipse cx="2356.0" cy="991.3" rx="4.2" ry="21.2" fill="url(#cool)" opacity="1"/>
</g>
<clipPath id="c43"><rect x="2406.5" y="953.1" width="84.5" height="84.9"/></clipPath>
<g clip-path="url(#c43)"><rect x="2406.5" y="953.1" width="84.5" height="84.9" fill="#4a3ec2"/>
<rect x="2406.5" y="953.1" width="29.6" height="32.3" fill="#7e78e2" opacity="1"/>
<rect x="2410.7" y="957.3" width="21.1" height="23.8" fill="#8a86e8" opacity="0.8"/>
<rect x="2436.1" y="953.1" width="23.7" height="46.7" fill="#6a52d6" opacity="1"/>
<rect x="2459.7" y="953.1" width="31.3" height="21.2" fill="#5a4ed0" opacity="1"/>
<polygon points="2457.2,982.8 2491.0,970.1 2491.0,1038.0 2457.2,1038.0" fill="#3e32aa" opacity="1"/>
<rect x="2406.5" y="999.8" width="49.0" height="38.2" fill="#3a2c9c" opacity="1"/>
<rect x="2406.5" y="997.2" width="50.7" height="4.2" fill="#6a66d8" opacity="0.7"/>
<rect x="2457.2" y="953.1" width="5.1" height="84.9" fill="#2e2480" opacity="0.8"/>
<ellipse cx="2444.5" cy="970.1" rx="10.1" ry="7.6" fill="url(#warm)" opacity="1"/>
<ellipse cx="2444.5" cy="991.3" rx="3.4" ry="18.7" fill="url(#cool)" opacity="1"/>
</g>
<clipPath id="c44"><rect x="1604.4" y="1042.8" width="85.6" height="83.7"/></clipPath>
<g clip-path="url(#c44)"><rect x="1604.4" y="1042.8" width="85.6" height="83.7" fill="#d4d4dc"/>
<rect x="1664.3" y="1042.8" width="25.7" height="83.7" fill="#c4c4cc" opacity="1"/>
<rect x="1664.3" y="1083.0" width="25.7" height="25.1" fill="#b09070" opacity="1"/>
<rect x="1621.5" y="1042.8" width="42.8" height="20.9" fill="#c8c8d0" opacity="1"/>
<polygon points="1608.7,1072.1 1630.1,1067.9 1634.4,1126.5 1608.7,1126.5" fill="#1e1e22" opacity="1"/>
<ellipse cx="1621.5" cy="1061.2" rx="6.0" ry="8.4" fill="#c09080" opacity="1"/>
<polygon points="1630.1,1067.9 1655.8,1066.2 1660.0,1088.8 1655.8,1126.5 1634.4,1126.5" fill="#5a4638" opacity="1"/>
<ellipse cx="1642.9" cy="1052.8" rx="6.8" ry="8.4" fill="#d0a890" opacity="1"/>
<rect x="1634.4" y="1105.6" width="17.1" height="20.9" fill="#8a8070" opacity="1"/>
<rect x="1604.4" y="1044.5" width="58.2" height="81.2" fill="none" stroke="#ee2a1a" stroke-width="2"/>
</g>
<clipPath id="c45"><rect x="1692.8" y="1042.8" width="85.0" height="83.7"/></clipPath>
<g clip-path="url(#c45)"><rect x="1692.8" y="1042.8" width="85.0" height="83.7" fill="#8a76e6"/>
<rect x="1739.5" y="1042.8" width="38.2" height="83.7" fill="#9482ec" opacity="1"/>
<rect x="1745.5" y="1047.0" width="10.2" height="15.1" fill="#a898f2" opacity="0.8"/>
<rect x="1759.1" y="1047.0" width="10.2" height="15.1" fill="#a898f2" opacity="0.8"/>
<rect x="1748.0" y="1067.9" width="10.2" height="15.1" fill="#a494f0" opacity="0.8"/>
<rect x="1762.5" y="1067.9" width="10.2" height="15.1" fill="#a494f0" opacity="0.8"/>
<rect x="1750.6" y="1088.8" width="10.2" height="15.1" fill="#a090ee" opacity="0.7"/>
<rect x="1765.0" y="1088.8" width="10.2" height="15.1" fill="#a090ee" opacity="0.7"/>
<rect x="1739.5" y="1063.7" width="38.2" height="2.5" fill="#6a5ad0" opacity="1"/>
<rect x="1739.5" y="1084.7" width="38.2" height="2.5" fill="#6a5ad0" opacity="1"/>
<rect x="1739.5" y="1105.6" width="38.2" height="2.5" fill="#6a5ad0" opacity="1"/>
<ellipse cx="1705.5" cy="1059.5" rx="6.0" ry="8.4" fill="#7a70d0" opacity="1"/>
<ellipse cx="1726.8" cy="1052.8" rx="6.0" ry="8.4" fill="#8078d0" opacity="1"/>
<polygon points="1692.8,1072.1 1714.0,1067.9 1718.3,1126.5 1692.8,1126.5" fill="#4a46b4" opacity="1"/>
<polygon points="1714.0,1063.7 1739.5,1063.7 1745.5,1088.8 1739.5,1126.5 1716.6,1126.5" fill="#5e58c0" opacity="1"/>
<polygon points="1692.8,1067.9 1743.8,1051.2 1748.0,1126.5 1692.8,1126.5" fill="#6ab090" opacity="0.75"/>
<ellipse cx="1726.8" cy="1063.7" rx="6.0" ry="10.0" fill="url(#hot)" opacity="1"/>
<ellipse cx="1735.3" cy="1093.0" rx="25.5" ry="25.1" fill="url(#warm)" opacity="1"/>
</g>
<clipPath id="c46"><rect x="1781.0" y="1042.8" width="85.7" height="83.7"/></clipPath>
<g clip-path="url(#c46)"><rect x="1781.0" y="1042.8" width="85.7" height="83.7" fill="#8a76e6"/>
<rect x="1828.1" y="1042.8" width="38.6" height="83.7" fill="#9482ec" opacity="1"/>
<rect x="1834.1" y="1047.0" width="10.3" height="15.1" fill="#a898f2" opacity="0.8"/>
<rect x="1847.8" y="1047.0" width="10.3" height="15.1" fill="#a898f2" opacity="0.8"/>
<rect x="1836.7" y="1067.9" width="10.3" height="15.1" fill="#a494f0" opacity="0.8"/>
<rect x="1851.3" y="1067.9" width="10.3" height="15.1" fill="#a494f0" opacity="0.8"/>
<rect x="1839.3" y="1088.8" width="10.3" height="15.1" fill="#a090ee" opacity="0.7"/>
<rect x="1853.8" y="1088.8" width="10.3" height="15.1" fill="#a090ee" opacity="0.7"/>
<rect x="1828.1" y="1063.7" width="38.6" height="2.5" fill="#6a5ad0" opacity="1"/>
<rect x="1828.1" y="1084.7" width="38.6" height="2.5" fill="#6a5ad0" opacity="1"/>
<rect x="1828.1" y="1105.6" width="38.6" height="2.5" fill="#6a5ad0" opacity="1"/>
<ellipse cx="1793.9" cy="1059.5" rx="6.0" ry="8.4" fill="#7a70d0" opacity="1"/>
<ellipse cx="1815.3" cy="1052.8" rx="6.0" ry="8.4" fill="#8078d0" opacity="1"/>
<polygon points="1781.0,1072.1 1802.4,1067.9 1806.7,1126.5 1781.0,1126.5" fill="#4a46b4" opacity="1"/>
<polygon points="1802.4,1063.7 1828.1,1063.7 1834.1,1088.8 1828.1,1126.5 1805.0,1126.5" fill="#5e58c0" opacity="1"/>
<polygon points="1781.0,1067.9 1832.4,1051.2 1836.7,1126.5 1781.0,1126.5" fill="#5a90a8" opacity="0.55"/>
</g>
<clipPath id="c47"><rect x="1869.8" y="1042.8" width="85.1" height="83.7"/></clipPath>
<g clip-path="url(#c47)"><rect x="1869.8" y="1042.8" width="85.1" height="83.7" fill="#8a76e6"/>
<rect x="1916.6" y="1042.8" width="38.3" height="83.7" fill="#9482ec" opacity="1"/>
<rect x="1922.6" y="1047.0" width="10.2" height="15.1" fill="#a898f2" opacity="0.8"/>
<rect x="1936.2" y="1047.0" width="10.2" height="15.1" fill="#a898f2" opacity="0.8"/>
<rect x="1925.1" y="1067.9" width="10.2" height="15.1" fill="#a494f0" opacity="0.8"/>
<rect x="1939.6" y="1067.9" width="10.2" height="15.1" fill="#a494f0" opacity="0.8"/>
<rect x="1927.7" y="1088.8" width="10.2" height="15.1" fill="#a090ee" opacity="0.7"/>
<rect x="1942.1" y="1088.8" width="10.2" height="15.1" fill="#a090ee" opacity="0.7"/>
<rect x="1916.6" y="1063.7" width="38.3" height="2.5" fill="#6a5ad0" opacity="1"/>
<rect x="1916.6" y="1084.7" width="38.3" height="2.5" fill="#6a5ad0" opacity="1"/>
<rect x="1916.6" y="1105.6" width="38.3" height="2.5" fill="#6a5ad0" opacity="1"/>
<ellipse cx="1882.6" cy="1059.5" rx="6.0" ry="8.4" fill="#7a70d0" opacity="1"/>
<ellipse cx="1903.8" cy="1052.8" rx="6.0" ry="8.4" fill="#8078d0" opacity="1"/>
<polygon points="1869.8,1072.1 1891.1,1067.9 1895.3,1126.5 1869.8,1126.5" fill="#4a46b4" opacity="1"/>
<polygon points="1891.1,1063.7 1916.6,1063.7 1922.6,1088.8 1916.6,1126.5 1893.6,1126.5" fill="#5e58c0" opacity="1"/>
<polygon points="1869.8,1067.9 1920.9,1051.2 1925.1,1126.5 1869.8,1126.5" fill="#5a8aa8" opacity="0.5"/>
<ellipse cx="1880.0" cy="1061.2" rx="5.1" ry="8.4" fill="url(#warm)" opacity="1"/>
</g>
<clipPath id="c48"><rect x="1961.3" y="1042.8" width="84.5" height="83.7"/></clipPath>
<g clip-path="url(#c48)"><rect x="1961.3" y="1042.8" width="84.5" height="83.7" fill="#8a76e6"/>
<rect x="2007.8" y="1042.8" width="38.0" height="83.7" fill="#9482ec" opacity="1"/>
<rect x="2013.7" y="1047.0" width="10.1" height="15.1" fill="#a898f2" opacity="0.8"/>
<rect x="2027.2" y="1047.0" width="10.1" height="15.1" fill="#a898f2" opacity="0.8"/>
<rect x="2016.2" y="1067.9" width="10.1" height="15.1" fill="#a494f0" opacity="0.8"/>
<rect x="2030.6" y="1067.9" width="10.1" height="15.1" fill="#a494f0" opacity="0.8"/>
<rect x="2018.8" y="1088.8" width="10.1" height="15.1" fill="#a090ee" opacity="0.7"/>
<rect x="2033.1" y="1088.8" width="10.1" height="15.1" fill="#a090ee" opacity="0.7"/>
<rect x="2007.8" y="1063.7" width="38.0" height="2.5" fill="#6a5ad0" opacity="1"/>
<rect x="2007.8" y="1084.7" width="38.0" height="2.5" fill="#6a5ad0" opacity="1"/>
<rect x="2007.8" y="1105.6" width="38.0" height="2.5" fill="#6a5ad0" opacity="1"/>
<ellipse cx="1974.0" cy="1059.5" rx="5.9" ry="8.4" fill="#7a70d0" opacity="1"/>
<ellipse cx="1995.1" cy="1052.8" rx="5.9" ry="8.4" fill="#8078d0" opacity="1"/>
<polygon points="1961.3,1072.1 1982.4,1067.9 1986.6,1126.5 1961.3,1126.5" fill="#4a46b4" opacity="1"/>
<polygon points="1982.4,1063.7 2007.8,1063.7 2013.7,1088.8 2007.8,1126.5 1985.0,1126.5" fill="#5e58c0" opacity="1"/>
<polygon points="1961.3,1067.9 2012.0,1051.2 2016.2,1126.5 1961.3,1126.5" fill="#6aa890" opacity="0.6"/>
<ellipse cx="1974.0" cy="1061.2" rx="8.5" ry="12.6" fill="url(#hot)" opacity="1"/>
<ellipse cx="1978.2" cy="1088.8" rx="6.8" ry="8.4" fill="url(#hot)" opacity="1"/>
<ellipse cx="1986.6" cy="1101.4" rx="25.3" ry="20.9" fill="url(#warm)" opacity="1"/>
</g>
<clipPath id="c49"><rect x="2049.8" y="1042.8" width="84.4" height="83.7"/></clipPath>
<g clip-path="url(#c49)"><rect x="2049.8" y="1042.8" width="84.4" height="83.7" fill="#8a76e6"/>
<rect x="2096.2" y="1042.8" width="38.0" height="83.7" fill="#9482ec" opacity="1"/>
<rect x="2102.1" y="1047.0" width="10.1" height="15.1" fill="#a898f2" opacity="0.8"/>
<rect x="2115.6" y="1047.0" width="10.1" height="15.1" fill="#a898f2" opacity="0.8"/>
<rect x="2104.7" y="1067.9" width="10.1" height="15.1" fill="#a494f0" opacity="0.8"/>
<rect x="2119.0" y="1067.9" width="10.1" height="15.1" fill="#a494f0" opacity="0.8"/>
<rect x="2107.2" y="1088.8" width="10.1" height="15.1" fill="#a090ee" opacity="0.7"/>
<rect x="2121.5" y="1088.8" width="10.1" height="15.1" fill="#a090ee" opacity="0.7"/>
<rect x="2096.2" y="1063.7" width="38.0" height="2.5" fill="#6a5ad0" opacity="1"/>
<rect x="2096.2" y="1084.7" width="38.0" height="2.5" fill="#6a5ad0" opacity="1"/>
<rect x="2096.2" y="1105.6" width="38.0" height="2.5" fill="#6a5ad0" opacity="1"/>
<ellipse cx="2062.5" cy="1059.5" rx="5.9" ry="8.4" fill="#7a70d0" opacity="1"/>
<ellipse cx="2083.6" cy="1052.8" rx="5.9" ry="8.4" fill="#8078d0" opacity="1"/>
<polygon points="2049.8,1072.1 2070.9,1067.9 2075.1,1126.5 2049.8,1126.5" fill="#4a46b4" opacity="1"/>
<polygon points="2070.9,1063.7 2096.2,1063.7 2102.1,1088.8 2096.2,1126.5 2073.4,1126.5" fill="#5e58c0" opacity="1"/>
<polygon points="2049.8,1067.9 2100.4,1051.2 2104.7,1126.5 2049.8,1126.5" fill="#4a6ab8" opacity="0.4"/>
<ellipse cx="2059.9" cy="1062.9" rx="5.1" ry="6.7" fill="url(#hot)" opacity="1"/>
</g>
<clipPath id="c50"><rect x="2138.6" y="1042.8" width="84.1" height="83.7"/></clipPath>
<g clip-path="url(#c50)"><rect x="2138.6" y="1042.8" width="84.1" height="83.7" fill="#8a76e6"/>
<rect x="2184.9" y="1042.8" width="37.8" height="83.7" fill="#9482ec" opacity="1"/>
<rect x="2190.7" y="1047.0" width="10.1" height="15.1" fill="#a898f2" opacity="0.8"/>
<rect x="2204.2" y="1047.0" width="10.1" height="15.1" fill="#a898f2" opacity="0.8"/>
<rect x="2193.3" y="1067.9" width="10.1" height="15.1" fill="#a494f0" opacity="0.8"/>
<rect x="2207.6" y="1067.9" width="10.1" height="15.1" fill="#a494f0" opacity="0.8"/>
<rect x="2195.8" y="1088.8" width="10.1" height="15.1" fill="#a090ee" opacity="0.7"/>
<rect x="2210.1" y="1088.8" width="10.1" height="15.1" fill="#a090ee" opacity="0.7"/>
<rect x="2184.9" y="1063.7" width="37.8" height="2.5" fill="#6a5ad0" opacity="1"/>
<rect x="2184.9" y="1084.7" width="37.8" height="2.5" fill="#6a5ad0" opacity="1"/>
<rect x="2184.9" y="1105.6" width="37.8" height="2.5" fill="#6a5ad0" opacity="1"/>
<ellipse cx="2151.2" cy="1059.5" rx="5.9" ry="8.4" fill="#7a70d0" opacity="1"/>
<ellipse cx="2172.2" cy="1052.8" rx="5.9" ry="8.4" fill="#8078d0" opacity="1"/>
<polygon points="2138.6,1072.1 2159.6,1067.9 2163.8,1126.5 2138.6,1126.5" fill="#4a46b4" opacity="1"/>
<polygon points="2159.6,1063.7 2184.9,1063.7 2190.7,1088.8 2184.9,1126.5 2162.1,1126.5" fill="#5e58c0" opacity="1"/>
<polygon points="2138.6,1067.9 2189.1,1051.2 2193.3,1126.5 2138.6,1126.5" fill="#5a80b0" opacity="0.4"/>
<ellipse cx="2163.8" cy="1101.4" rx="16.8" ry="16.7" fill="url(#cool)" opacity="1"/>
</g>
<clipPath id="c51"><rect x="2229.6" y="1042.8" width="84.1" height="83.7"/></clipPath>
<g clip-path="url(#c51)"><rect x="2229.6" y="1042.8" width="84.1" height="83.7" fill="#8a76e6"/>
<rect x="2275.9" y="1042.8" width="37.8" height="83.7" fill="#9482ec" opacity="1"/>
<rect x="2281.7" y="1047.0" width="10.1" height="15.1" fill="#a898f2" opacity="0.8"/>
<rect x="2295.2" y="1047.0" width="10.1" height="15.1" fill="#a898f2" opacity="0.8"/>
<rect x="2284.3" y="1067.9" width="10.1" height="15.1" fill="#a494f0" opacity="0.8"/>
<rect x="2298.6" y="1067.9" width="10.1" height="15.1" fill="#a494f0" opacity="0.8"/>
<rect x="2286.8" y="1088.8" width="10.1" height="15.1" fill="#a090ee" opacity="0.7"/>
<rect x="2301.1" y="1088.8" width="10.1" height="15.1" fill="#a090ee" opacity="0.7"/>
<rect x="2275.9" y="1063.7" width="37.8" height="2.5" fill="#6a5ad0" opacity="1"/>
<rect x="2275.9" y="1084.7" width="37.8" height="2.5" fill="#6a5ad0" opacity="1"/>
<rect x="2275.9" y="1105.6" width="37.8" height="2.5" fill="#6a5ad0" opacity="1"/>
<ellipse cx="2242.2" cy="1059.5" rx="5.9" ry="8.4" fill="#7a70d0" opacity="1"/>
<ellipse cx="2263.2" cy="1052.8" rx="5.9" ry="8.4" fill="#8078d0" opacity="1"/>
<polygon points="2229.6,1072.1 2250.6,1067.9 2254.8,1126.5 2229.6,1126.5" fill="#4a46b4" opacity="1"/>
<polygon points="2250.6,1063.7 2275.9,1063.7 2281.7,1088.8 2275.9,1126.5 2253.1,1126.5" fill="#5e58c0" opacity="1"/>
<polygon points="2229.6,1067.9 2280.1,1051.2 2284.3,1126.5 2229.6,1126.5" fill="#5a9aa0" opacity="0.6"/>
<ellipse cx="2263.2" cy="1072.1" rx="10.9" ry="10.0" fill="url(#hot)" opacity="1"/>
<ellipse cx="2246.4" cy="1088.8" rx="12.6" ry="16.7" fill="url(#warm)" opacity="1"/>
</g>
<clipPath id="c52"><rect x="2318.0" y="1042.8" width="84.5" height="83.7"/></clipPath>
<g clip-path="url(#c52)"><rect x="2318.0" y="1042.8" width="84.5" height="83.7" fill="#8a76e6"/>
<rect x="2364.5" y="1042.8" width="38.0" height="83.7" fill="#9482ec" opacity="1"/>
<rect x="2370.4" y="1047.0" width="10.1" height="15.1" fill="#a898f2" opacity="0.8"/>
<rect x="2383.9" y="1047.0" width="10.1" height="15.1" fill="#a898f2" opacity="0.8"/>
<rect x="2372.9" y="1067.9" width="10.1" height="15.1" fill="#a494f0" opacity="0.8"/>
<rect x="2387.3" y="1067.9" width="10.1" height="15.1" fill="#a494f0" opacity="0.8"/>
<rect x="2375.5" y="1088.8" width="10.1" height="15.1" fill="#a090ee" opacity="0.7"/>
<rect x="2389.8" y="1088.8" width="10.1" height="15.1" fill="#a090ee" opacity="0.7"/>
<rect x="2364.5" y="1063.7" width="38.0" height="2.5" fill="#6a5ad0" opacity="1"/>
<rect x="2364.5" y="1084.7" width="38.0" height="2.5" fill="#6a5ad0" opacity="1"/>
<rect x="2364.5" y="1105.6" width="38.0" height="2.5" fill="#6a5ad0" opacity="1"/>
<ellipse cx="2330.7" cy="1059.5" rx="5.9" ry="8.4" fill="#7a70d0" opacity="1"/>
<ellipse cx="2351.8" cy="1052.8" rx="5.9" ry="8.4" fill="#8078d0" opacity="1"/>
<polygon points="2318.0,1072.1 2339.1,1067.9 2343.3,1126.5 2318.0,1126.5" fill="#4a46b4" opacity="1"/>
<polygon points="2339.1,1063.7 2364.5,1063.7 2370.4,1088.8 2364.5,1126.5 2341.7,1126.5" fill="#5e58c0" opacity="1"/>
<polygon points="2318.0,1067.9 2368.7,1051.2 2372.9,1126.5 2318.0,1126.5" fill="#4a6ab8" opacity="0.4"/>
<ellipse cx="2334.9" cy="1067.9" rx="4.2" ry="5.9" fill="url(#hot)" opacity="1"/>
</g>
<clipPath id="c53"><rect x="2406.5" y="1042.8" width="84.5" height="83.7"/></clipPath>
<g clip-path="url(#c53)"><rect x="2406.5" y="1042.8" width="84.5" height="83.7" fill="#8a76e6"/>
<rect x="2453.0" y="1042.8" width="38.0" height="83.7" fill="#9482ec" opacity="1"/>
<rect x="2458.9" y="1047.0" width="10.1" height="15.1" fill="#a898f2" opacity="0.8"/>
<rect x="2472.4" y="1047.0" width="10.1" height="15.1" fill="#a898f2" opacity="0.8"/>
<rect x="2461.4" y="1067.9" width="10.1" height="15.1" fill="#a494f0" opacity="0.8"/>
<rect x="2475.8" y="1067.9" width="10.1" height="15.1" fill="#a494f0" opacity="0.8"/>
<rect x="2464.0" y="1088.8" width="10.1" height="15.1" fill="#a090ee" opacity="0.7"/>
<rect x="2478.3" y="1088.8" width="10.1" height="15.1" fill="#a090ee" opacity="0.7"/>
<rect x="2453.0" y="1063.7" width="38.0" height="2.5" fill="#6a5ad0" opacity="1"/>
<rect x="2453.0" y="1084.7" width="38.0" height="2.5" fill="#6a5ad0" opacity="1"/>
<rect x="2453.0" y="1105.6" width="38.0" height="2.5" fill="#6a5ad0" opacity="1"/>
<ellipse cx="2419.2" cy="1059.5" rx="5.9" ry="8.4" fill="#7a70d0" opacity="1"/>
<ellipse cx="2440.3" cy="1052.8" rx="5.9" ry="8.4" fill="#8078d0" opacity="1"/>
<polygon points="2406.5,1072.1 2427.6,1067.9 2431.8,1126.5 2406.5,1126.5" fill="#4a46b4" opacity="1"/>
<polygon points="2427.6,1063.7 2453.0,1063.7 2458.9,1088.8 2453.0,1126.5 2430.2,1126.5" fill="#5e58c0" opacity="1"/>
<polygon points="2406.5,1067.9 2457.2,1051.2 2461.4,1126.5 2406.5,1126.5" fill="#5a8ab0" opacity="0.5"/>
<ellipse cx="2427.6" cy="1093.0" rx="8.5" ry="20.9" fill="url(#cool)" opacity="1"/>
</g>
<clipPath id="c54"><rect x="1604.4" y="1131.2" width="85.6" height="83.8"/></clipPath>
<g clip-path="url(#c54)"><rect x="1604.4" y="1131.2" width="85.6" height="83.8" fill="#c0c4c8"/>
<rect x="1604.4" y="1131.2" width="42.8" height="58.7" fill="#d8dadc" opacity="1"/>
<rect x="1608.7" y="1141.3" width="30.0" height="18.4" fill="#505860" opacity="1"/>
<rect x="1604.4" y="1164.7" width="38.5" height="25.1" fill="#a0b0b0" opacity="1"/>
<rect x="1647.2" y="1131.2" width="42.8" height="54.5" fill="#5a6878" opacity="1"/>
<rect x="1651.5" y="1139.6" width="34.2" height="33.5" fill="#3a4858" opacity="0.8"/>
<rect x="1604.4" y="1189.9" width="85.6" height="25.1" fill="#383838" opacity="1"/>
<polygon points="1604.4,1188.2 1647.2,1183.2 1690.0,1189.9 1690.0,1191.5 1604.4,1198.2" fill="#b8b8b8" opacity="1"/>
<rect x="1625.8" y="1168.9" width="8.6" height="12.6" fill="#d8b040" opacity="0.8"/>
<rect x="1647.2" y="1181.5" width="38.5" height="16.8" fill="#606870" opacity="1"/>
<rect x="1651.5" y="1181.5" width="36.8" height="25.1" fill="none" stroke="#ee2a1a" stroke-width="1.6"/>
</g>
<clipPath id="c55"><rect x="1692.8" y="1131.2" width="85.0" height="83.8"/></clipPath>
<g clip-path="url(#c55)"><rect x="1692.8" y="1131.2" width="85.0" height="83.8" fill="#6a58d8"/>
<rect x="1692.8" y="1131.2" width="42.5" height="58.7" fill="#9282ea" opacity="1"/>
<rect x="1697.0" y="1139.6" width="34.0" height="16.8" fill="#5a50c8" opacity="0.7"/>
<rect x="1735.3" y="1131.2" width="42.5" height="54.5" fill="#5848c8" opacity="1"/>
<rect x="1739.5" y="1139.6" width="34.0" height="29.3" fill="#4a40c0" opacity="0.6"/>
<rect x="1692.8" y="1189.9" width="85.0" height="25.1" fill="#5644c6" opacity="1"/>
<polygon points="1692.8,1189.9 1735.3,1185.7 1777.8,1191.5 1777.8,1196.6 1692.8,1196.6" fill="#8070e0" opacity="0.7"/>
<rect x="1718.3" y="1173.1" width="1.3" height="41.9" fill="#3a2a90" opacity="0.9"/>
<rect x="1705.5" y="1177.3" width="6.8" height="8.4" fill="#9a6ac8" opacity="0.7"/>
<rect x="1692.8" y="1131.2" width="85.0" height="83.8" fill="#60b0c8" opacity="0.45"/>
<ellipse cx="1739.5" cy="1194.0" rx="34.0" ry="8.4" fill="url(#hot)" opacity="1"/>
<ellipse cx="1756.5" cy="1168.9" rx="6.8" ry="8.4" fill="url(#warm)" opacity="1"/>
<ellipse cx="1709.8" cy="1181.5" rx="8.5" ry="12.6" fill="url(#warm)" opacity="1"/>
<ellipse cx="1773.5" cy="1196.6" rx="6.0" ry="5.9" fill="url(#hot)" opacity="1"/>
<ellipse cx="1709.8" cy="1208.3" rx="5.1" ry="5.0" fill="url(#hot)" opacity="1"/>
<ellipse cx="1739.5" cy="1148.0" rx="21.2" ry="8.4" fill="url(#warm)" opacity="1"/>
</g>
<clipPath id="c56"><rect x="1781.0" y="1131.2" width="85.7" height="83.8"/></clipPath>
<g clip-path="url(#c56)"><rect x="1781.0" y="1131.2" width="85.7" height="83.8" fill="#6a58d8"/>
<rect x="1781.0" y="1131.2" width="42.9" height="58.7" fill="#9282ea" opacity="1"/>
<rect x="1785.3" y="1139.6" width="34.3" height="16.8" fill="#5a50c8" opacity="0.7"/>
<rect x="1823.8" y="1131.2" width="42.9" height="54.5" fill="#5848c8" opacity="1"/>
<rect x="1828.1" y="1139.6" width="34.3" height="29.3" fill="#4a40c0" opacity="0.6"/>
<rect x="1781.0" y="1189.9" width="85.7" height="25.1" fill="#5644c6" opacity="1"/>
<polygon points="1781.0,1189.9 1823.8,1185.7 1866.7,1191.5 1866.7,1196.6 1781.0,1196.6" fill="#8070e0" opacity="0.7"/>
<rect x="1806.7" y="1173.1" width="1.3" height="41.9" fill="#3a2a90" opacity="0.9"/>
<rect x="1793.9" y="1177.3" width="6.9" height="8.4" fill="#9a6ac8" opacity="0.7"/>
<ellipse cx="1841.0" cy="1194.0" rx="12.9" ry="5.9" fill="url(#warm)" opacity="1"/>
<ellipse cx="1798.1" cy="1177.3" rx="8.6" ry="8.4" fill="url(#cool)" opacity="1"/>
<ellipse cx="1862.4" cy="1181.5" rx="4.3" ry="4.2" fill="url(#hot)" opacity="1"/>
</g>
<clipPath id="c57"><rect x="1869.8" y="1131.2" width="85.1" height="83.8"/></clipPath>
<g clip-path="url(#c57)"><rect x="1869.8" y="1131.2" width="85.1" height="83.8" fill="#6a58d8"/>
<rect x="1869.8" y="1131.2" width="42.6" height="58.7" fill="#9282ea" opacity="1"/>
<rect x="1874.1" y="1139.6" width="34.0" height="16.8" fill="#5a50c8" opacity="0.7"/>
<rect x="1912.3" y="1131.2" width="42.6" height="54.5" fill="#5848c8" opacity="1"/>
<rect x="1916.6" y="1139.6" width="34.0" height="29.3" fill="#4a40c0" opacity="0.6"/>
<rect x="1869.8" y="1189.9" width="85.1" height="25.1" fill="#5644c6" opacity="1"/>
<polygon points="1869.8,1189.9 1912.3,1185.7 1954.9,1191.5 1954.9,1196.6 1869.8,1196.6" fill="#8070e0" opacity="0.7"/>
<rect x="1895.3" y="1173.1" width="1.3" height="41.9" fill="#3a2a90" opacity="0.9"/>
<rect x="1882.6" y="1177.3" width="6.8" height="8.4" fill="#9a6ac8" opacity="0.7"/>
<ellipse cx="1933.6" cy="1191.5" rx="17.0" ry="8.4" fill="url(#cool)" opacity="1"/>
<ellipse cx="1937.9" cy="1189.9" rx="3.4" ry="3.4" fill="url(#warm)" opacity="1"/>
</g>
<clipPath id="c58"><rect x="1961.3" y="1131.2" width="84.5" height="83.8"/></clipPath>
<g clip-path="url(#c58)"><rect x="1961.3" y="1131.2" width="84.5" height="83.8" fill="#6a58d8"/>
<rect x="1961.3" y="1131.2" width="42.2" height="58.7" fill="#9282ea" opacity="1"/>
<rect x="1965.5" y="1139.6" width="33.8" height="16.8" fill="#5a50c8" opacity="0.7"/>
<rect x="2003.5" y="1131.2" width="42.2" height="54.5" fill="#5848c8" opacity="1"/>
<rect x="2007.8" y="1139.6" width="33.8" height="29.3" fill="#4a40c0" opacity="0.6"/>
<rect x="1961.3" y="1189.9" width="84.5" height="25.1" fill="#5644c6" opacity="1"/>
<polygon points="1961.3,1189.9 2003.5,1185.7 2045.8,1191.5 2045.8,1196.6 1961.3,1196.6" fill="#8070e0" opacity="0.7"/>
<rect x="1986.6" y="1173.1" width="1.3" height="41.9" fill="#3a2a90" opacity="0.9"/>
<rect x="1974.0" y="1177.3" width="6.8" height="8.4" fill="#9a6ac8" opacity="0.7"/>
<ellipse cx="2020.5" cy="1191.5" rx="15.2" ry="10.1" fill="url(#hot)" opacity="1"/>
<ellipse cx="2041.6" cy="1196.6" rx="8.5" ry="8.4" fill="url(#hot)" opacity="1"/>
<ellipse cx="1974.0" cy="1194.0" rx="16.9" ry="8.4" fill="url(#cool)" opacity="1"/>
</g>
<clipPath id="c59"><rect x="2049.8" y="1131.2" width="84.4" height="83.8"/></clipPath>
<g clip-path="url(#c59)"><rect x="2049.8" y="1131.2" width="84.4" height="83.8" fill="#6a58d8"/>
<rect x="2049.8" y="1131.2" width="42.2" height="58.7" fill="#9282ea" opacity="1"/>
<rect x="2054.0" y="1139.6" width="33.8" height="16.8" fill="#5a50c8" opacity="0.7"/>
<rect x="2092.0" y="1131.2" width="42.2" height="54.5" fill="#5848c8" opacity="1"/>
<rect x="2096.2" y="1139.6" width="33.8" height="29.3" fill="#4a40c0" opacity="0.6"/>
<rect x="2049.8" y="1189.9" width="84.4" height="25.1" fill="#5644c6" opacity="1"/>
<polygon points="2049.8,1189.9 2092.0,1185.7 2134.2,1191.5 2134.2,1196.6 2049.8,1196.6" fill="#8070e0" opacity="0.7"/>
<rect x="2075.1" y="1173.1" width="1.3" height="41.9" fill="#3a2a90" opacity="0.9"/>
<rect x="2062.5" y="1177.3" width="6.8" height="8.4" fill="#9a6ac8" opacity="0.7"/>
<ellipse cx="2108.9" cy="1191.5" rx="13.5" ry="6.7" fill="url(#warm)" opacity="1"/>
<ellipse cx="2087.8" cy="1156.3" rx="10.1" ry="8.4" fill="url(#cool)" opacity="1"/>
<ellipse cx="2117.3" cy="1181.5" rx="3.4" ry="3.4" fill="url(#hot)" opacity="1"/>
</g>
<clipPath id="c60"><rect x="2138.6" y="1131.2" width="84.1" height="83.8"/></clipPath>
<g clip-path="url(#c60)"><rect x="2138.6" y="1131.2" width="84.1" height="83.8" fill="#6a58d8"/>
<rect x="2138.6" y="1131.2" width="42.0" height="58.7" fill="#9282ea" opacity="1"/>
<rect x="2142.8" y="1139.6" width="33.6" height="16.8" fill="#5a50c8" opacity="0.7"/>
<rect x="2180.6" y="1131.2" width="42.0" height="54.5" fill="#5848c8" opacity="1"/>
<rect x="2184.9" y="1139.6" width="33.6" height="29.3" fill="#4a40c0" opacity="0.6"/>
<rect x="2138.6" y="1189.9" width="84.1" height="25.1" fill="#5644c6" opacity="1"/>
<polygon points="2138.6,1189.9 2180.6,1185.7 2222.7,1191.5 2222.7,1196.6 2138.6,1196.6" fill="#8070e0" opacity="0.7"/>
<rect x="2163.8" y="1173.1" width="1.3" height="41.9" fill="#3a2a90" opacity="0.9"/>
<rect x="2151.2" y="1177.3" width="6.7" height="8.4" fill="#9a6ac8" opacity="0.7"/>
<ellipse cx="2201.7" cy="1194.0" rx="12.6" ry="5.9" fill="url(#cyan)" opacity="1"/>
</g>
<clipPath id="c61"><rect x="2229.6" y="1131.2" width="84.1" height="83.8"/></clipPath>
<g clip-path="url(#c61)"><rect x="2229.6" y="1131.2" width="84.1" height="83.8" fill="#6a58d8"/>
<rect x="2229.6" y="1131.2" width="42.0" height="58.7" fill="#9282ea" opacity="1"/>
<rect x="2233.8" y="1139.6" width="33.6" height="16.8" fill="#5a50c8" opacity="0.7"/>
<rect x="2271.6" y="1131.2" width="42.0" height="54.5" fill="#5848c8" opacity="1"/>
<rect x="2275.9" y="1139.6" width="33.6" height="29.3" fill="#4a40c0" opacity="0.6"/>
<rect x="2229.6" y="1189.9" width="84.1" height="25.1" fill="#5644c6" opacity="1"/>
<polygon points="2229.6,1189.9 2271.6,1185.7 2313.7,1191.5 2313.7,1196.6 2229.6,1196.6" fill="#8070e0" opacity="0.7"/>
<rect x="2254.8" y="1173.1" width="1.3" height="41.9" fill="#3a2a90" opacity="0.9"/>
<rect x="2242.2" y="1177.3" width="6.7" height="8.4" fill="#9a6ac8" opacity="0.7"/>
<ellipse cx="2280.1" cy="1196.6" rx="16.8" ry="8.4" fill="url(#hot)" opacity="1"/>
<ellipse cx="2271.6" cy="1202.4" rx="8.4" ry="8.4" fill="url(#cool)" opacity="1"/>
</g>
<clipPath id="c62"><rect x="2318.0" y="1131.2" width="84.5" height="83.8"/></clipPath>
<g clip-path="url(#c62)"><rect x="2318.0" y="1131.2" width="84.5" height="83.8" fill="#6a58d8"/>
<rect x="2318.0" y="1131.2" width="42.2" height="58.7" fill="#9282ea" opacity="1"/>
<rect x="2322.2" y="1139.6" width="33.8" height="16.8" fill="#5a50c8" opacity="0.7"/>
<rect x="2360.2" y="1131.2" width="42.2" height="54.5" fill="#5848c8" opacity="1"/>
<rect x="2364.5" y="1139.6" width="33.8" height="29.3" fill="#4a40c0" opacity="0.6"/>
<rect x="2318.0" y="1189.9" width="84.5" height="25.1" fill="#5644c6" opacity="1"/>
<polygon points="2318.0,1189.9 2360.2,1185.7 2402.5,1191.5 2402.5,1196.6 2318.0,1196.6" fill="#8070e0" opacity="0.7"/>
<rect x="2343.3" y="1173.1" width="1.3" height="41.9" fill="#3a2a90" opacity="0.9"/>
<rect x="2330.7" y="1177.3" width="6.8" height="8.4" fill="#9a6ac8" opacity="0.7"/>
<ellipse cx="2377.2" cy="1194.0" rx="13.5" ry="6.7" fill="url(#warm)" opacity="1"/>
<ellipse cx="2389.8" cy="1194.0" rx="8.5" ry="5.0" fill="url(#cool)" opacity="1"/>
</g>
<clipPath id="c63"><rect x="2406.5" y="1131.2" width="84.5" height="83.8"/></clipPath>
<g clip-path="url(#c63)"><rect x="2406.5" y="1131.2" width="84.5" height="83.8" fill="#6a58d8"/>
<rect x="2406.5" y="1131.2" width="42.2" height="58.7" fill="#9282ea" opacity="1"/>
<rect x="2410.7" y="1139.6" width="33.8" height="16.8" fill="#5a50c8" opacity="0.7"/>
<rect x="2448.8" y="1131.2" width="42.2" height="54.5" fill="#5848c8" opacity="1"/>
<rect x="2453.0" y="1139.6" width="33.8" height="29.3" fill="#4a40c0" opacity="0.6"/>
<rect x="2406.5" y="1189.9" width="84.5" height="25.1" fill="#5644c6" opacity="1"/>
<polygon points="2406.5,1189.9 2448.8,1185.7 2491.0,1191.5 2491.0,1196.6 2406.5,1196.6" fill="#8070e0" opacity="0.7"/>
<rect x="2431.8" y="1173.1" width="1.3" height="41.9" fill="#3a2a90" opacity="0.9"/>
<rect x="2419.2" y="1177.3" width="6.8" height="8.4" fill="#9a6ac8" opacity="0.7"/>
<ellipse cx="2474.1" cy="1191.5" rx="12.7" ry="8.4" fill="url(#warm)" opacity="1"/>
</g>
<text class="sf" x="1735.3" y="860.1" font-size="12.2" fill="#111" stroke="#111" stroke-width="0.25" text-anchor="middle">Block 6</text>
<text class="sf" x="1823.8" y="860.1" font-size="12.2" fill="#111" stroke="#111" stroke-width="0.25" text-anchor="middle">Block 7</text>
<text class="sf" x="1912.3" y="860.1" font-size="12.2" fill="#111" stroke="#111" stroke-width="0.25" text-anchor="middle">Block 8</text>
<text class="sf" x="2003.5" y="860.1" font-size="12.2" fill="#111" stroke="#111" stroke-width="0.25" text-anchor="middle">Block 6</text>
<text class="sf" x="2092.0" y="860.1" font-size="12.2" fill="#111" stroke="#111" stroke-width="0.25" text-anchor="middle">Block 7</text>
<text class="sf" x="2180.6" y="860.1" font-size="12.2" fill="#111" stroke="#111" stroke-width="0.25" text-anchor="middle">Block 8</text>
<text class="sf" x="2271.6" y="860.1" font-size="12.2" fill="#111" stroke="#111" stroke-width="0.25" text-anchor="middle">Block 6</text>
<text class="sf" x="2360.2" y="860.1" font-size="12.2" fill="#111" stroke="#111" stroke-width="0.25" text-anchor="middle">Block 7</text>
<text class="sf" x="2448.8" y="860.1" font-size="12.2" fill="#111" stroke="#111" stroke-width="0.25" text-anchor="middle">Block 8</text>
<g stroke="#111" stroke-width="1.6" stroke-dasharray="5 3"><line x1="1958.4" y1="849" x2="1958.4" y2="1222"/><line x1="2227" y1="849" x2="2227" y2="1222"/></g>
<text class="sf" x="1819.3" y="1227.7" font-size="13.75" fill="#111" text-anchor="middle" style="">(a) Learnable Parameterized Positional Queries</text>
<text class="sf" x="2087.1" y="1227.7" font-size="13.75" fill="#111" text-anchor="middle" style="">(b) Dynamic Anchor Positional Queries</text>
<text class="sf" x="2355.4" y="1227.7" font-size="13.75" fill="#111" text-anchor="middle" style="">(c) DFPQ</text>
</svg></body></html>
